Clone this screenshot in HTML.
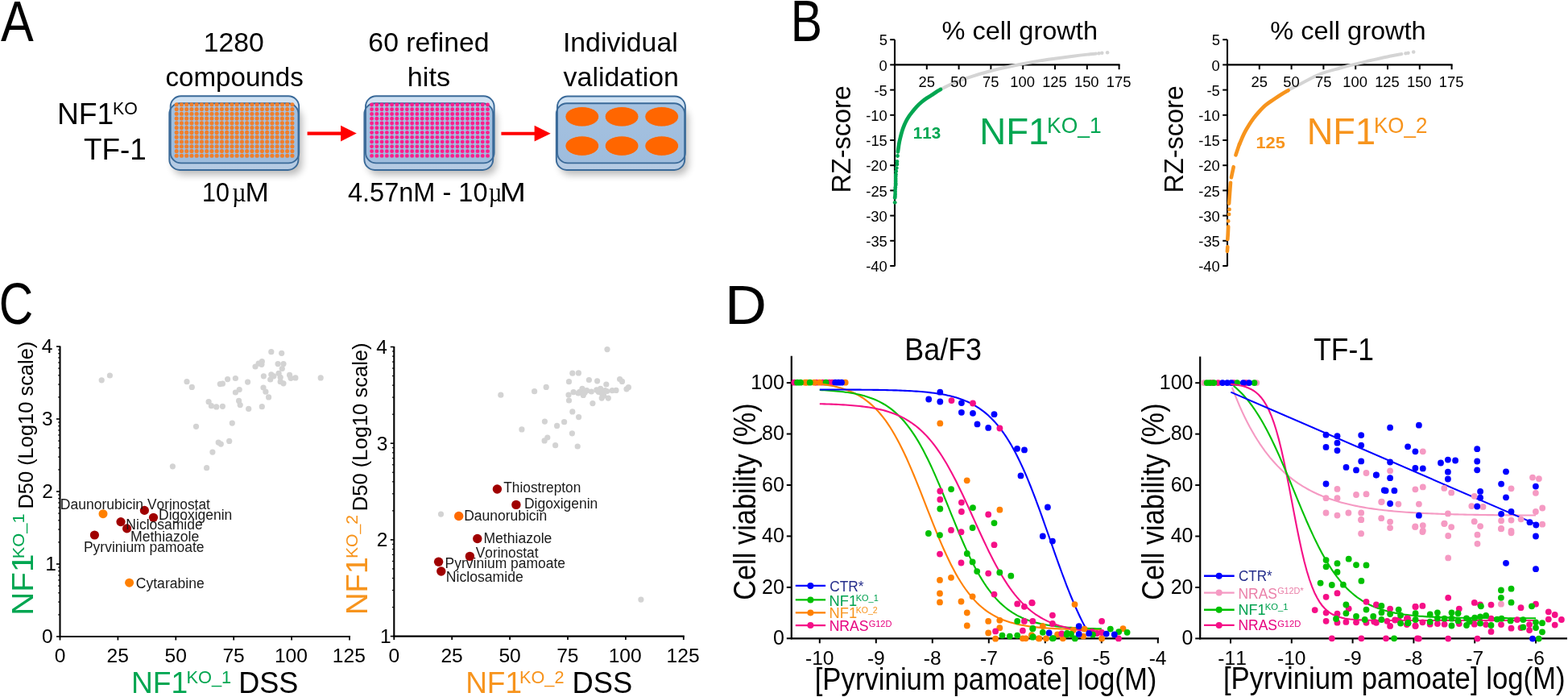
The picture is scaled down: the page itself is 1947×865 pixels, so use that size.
<!DOCTYPE html>
<html><head><meta charset="utf-8"><title>Figure</title>
<style>html,body{margin:0;padding:0;background:#fff;} svg{display:block;} text{font-kerning:none;}</style>
</head><body>
<svg width="1947" height="865" viewBox="0 0 1947 865">
<defs>
<filter id="shd" x="-20%" y="-30%" width="140%" height="160%"><feGaussianBlur stdDeviation="5"/></filter>
<linearGradient id="plateGrad" x1="0" y1="0" x2="0" y2="1">
 <stop offset="0" stop-color="#6a95c6" stop-opacity="0.42"/>
 <stop offset="1" stop-color="#6a95c6" stop-opacity="0.50"/>
</linearGradient>
</defs>
<rect width="1947" height="865" fill="#fff"/>
<text x="0.98" y="50.60" font-family='"Liberation Sans", sans-serif' font-size="71.00" fill="#000" textLength="40.74" lengthAdjust="spacingAndGlyphs">A</text>
<text x="252.65" y="63.90" font-family='"Liberation Sans", sans-serif' font-size="33.60" fill="#000" textLength="75.06" lengthAdjust="spacingAndGlyphs">1280</text>
<text x="205.39" y="106.70" font-family='"Liberation Sans", sans-serif' font-size="33.60" fill="#000" textLength="171.41" lengthAdjust="spacingAndGlyphs">compounds</text>
<text x="457.39" y="63.90" font-family='"Liberation Sans", sans-serif' font-size="33.60" fill="#000" textLength="150.09" lengthAdjust="spacingAndGlyphs">60 refined</text>
<text x="505.82" y="106.70" font-family='"Liberation Sans", sans-serif' font-size="33.60" fill="#000" textLength="53.31" lengthAdjust="spacingAndGlyphs">hits</text>
<text x="698.88" y="63.90" font-family='"Liberation Sans", sans-serif' font-size="33.60" fill="#000" textLength="142.88" lengthAdjust="spacingAndGlyphs">Individual</text>
<text x="699.58" y="106.70" font-family='"Liberation Sans", sans-serif' font-size="33.60" fill="#000" textLength="143.32" lengthAdjust="spacingAndGlyphs">validation</text>
<text x="70.94" y="153.80" font-family='"Liberation Sans", sans-serif' font-size="37.40" fill="#000" textLength="70.42" lengthAdjust="spacingAndGlyphs">NF1</text>
<text x="139.95" y="142.00" font-family='"Liberation Sans", sans-serif' font-size="22.10" fill="#000" textLength="30.77" lengthAdjust="spacingAndGlyphs">KO</text>
<text x="104.07" y="197.50" font-family='"Liberation Sans", sans-serif' font-size="37.60" fill="#000" textLength="77.80" lengthAdjust="spacingAndGlyphs">TF-1</text>
<text x="250.97" y="249.90" font-family='"Liberation Sans", sans-serif' font-size="33.60" fill="#000" textLength="33.93" lengthAdjust="spacingAndGlyphs">10</text>
<text x="288.33" y="249.90" font-family='"Liberation Serif", serif' font-size="33.60" fill="#000" textLength="17.36" lengthAdjust="spacingAndGlyphs">µ</text>
<text x="304.41" y="249.90" font-family='"Liberation Sans", sans-serif' font-size="33.60" fill="#000" textLength="29.39" lengthAdjust="spacingAndGlyphs">M</text>
<text x="431.95" y="250.40" font-family='"Liberation Sans", sans-serif' font-size="33.60" fill="#000" textLength="173.62" lengthAdjust="spacingAndGlyphs">4.57nM - 10</text>
<text x="606.67" y="250.40" font-family='"Liberation Serif", serif' font-size="33.60" fill="#000" textLength="16.57" lengthAdjust="spacingAndGlyphs">µ</text>
<text x="620.51" y="250.40" font-family='"Liberation Sans", sans-serif' font-size="33.60" fill="#000" textLength="32.38" lengthAdjust="spacingAndGlyphs">M</text>
<rect x="214.8" y="134.3" width="160.2" height="82.7" rx="13" fill="#000" opacity="0.27" filter="url(#shd)"/>
<rect x="210.3" y="128.3" width="160.2" height="82.7" rx="13" fill="#fff"/>
<rect x="211.7" y="119.3" width="159.5" height="83.1" rx="13" fill="#d0e2f3"/>
<rect x="210.3" y="128.3" width="160.2" height="82.7" rx="13" fill="url(#plateGrad)"/>
<rect x="211.7" y="119.3" width="159.5" height="83.1" rx="13" fill="none" stroke="#3a6a99" stroke-width="1.9"/>
<rect x="210.3" y="128.3" width="160.2" height="82.7" rx="13" fill="none" stroke="#3a6a99" stroke-width="1.9"/>
<g fill="#f07f2c"><circle cx="219.20" cy="129.70" r="2.55"/><circle cx="225.45" cy="129.70" r="2.55"/><circle cx="231.70" cy="129.70" r="2.55"/><circle cx="237.94" cy="129.70" r="2.55"/><circle cx="244.19" cy="129.70" r="2.55"/><circle cx="250.44" cy="129.70" r="2.55"/><circle cx="256.69" cy="129.70" r="2.55"/><circle cx="262.93" cy="129.70" r="2.55"/><circle cx="269.18" cy="129.70" r="2.55"/><circle cx="275.43" cy="129.70" r="2.55"/><circle cx="281.68" cy="129.70" r="2.55"/><circle cx="287.93" cy="129.70" r="2.55"/><circle cx="294.17" cy="129.70" r="2.55"/><circle cx="300.42" cy="129.70" r="2.55"/><circle cx="306.67" cy="129.70" r="2.55"/><circle cx="312.92" cy="129.70" r="2.55"/><circle cx="319.17" cy="129.70" r="2.55"/><circle cx="325.41" cy="129.70" r="2.55"/><circle cx="331.66" cy="129.70" r="2.55"/><circle cx="337.91" cy="129.70" r="2.55"/><circle cx="344.16" cy="129.70" r="2.55"/><circle cx="350.40" cy="129.70" r="2.55"/><circle cx="356.65" cy="129.70" r="2.55"/><circle cx="362.90" cy="129.70" r="2.55"/><circle cx="219.20" cy="135.48" r="2.55"/><circle cx="225.45" cy="135.48" r="2.55"/><circle cx="231.70" cy="135.48" r="2.55"/><circle cx="237.94" cy="135.48" r="2.55"/><circle cx="244.19" cy="135.48" r="2.55"/><circle cx="250.44" cy="135.48" r="2.55"/><circle cx="256.69" cy="135.48" r="2.55"/><circle cx="262.93" cy="135.48" r="2.55"/><circle cx="269.18" cy="135.48" r="2.55"/><circle cx="275.43" cy="135.48" r="2.55"/><circle cx="281.68" cy="135.48" r="2.55"/><circle cx="287.93" cy="135.48" r="2.55"/><circle cx="294.17" cy="135.48" r="2.55"/><circle cx="300.42" cy="135.48" r="2.55"/><circle cx="306.67" cy="135.48" r="2.55"/><circle cx="312.92" cy="135.48" r="2.55"/><circle cx="319.17" cy="135.48" r="2.55"/><circle cx="325.41" cy="135.48" r="2.55"/><circle cx="331.66" cy="135.48" r="2.55"/><circle cx="337.91" cy="135.48" r="2.55"/><circle cx="344.16" cy="135.48" r="2.55"/><circle cx="350.40" cy="135.48" r="2.55"/><circle cx="356.65" cy="135.48" r="2.55"/><circle cx="362.90" cy="135.48" r="2.55"/><circle cx="219.20" cy="141.26" r="2.55"/><circle cx="225.45" cy="141.26" r="2.55"/><circle cx="231.70" cy="141.26" r="2.55"/><circle cx="237.94" cy="141.26" r="2.55"/><circle cx="244.19" cy="141.26" r="2.55"/><circle cx="250.44" cy="141.26" r="2.55"/><circle cx="256.69" cy="141.26" r="2.55"/><circle cx="262.93" cy="141.26" r="2.55"/><circle cx="269.18" cy="141.26" r="2.55"/><circle cx="275.43" cy="141.26" r="2.55"/><circle cx="281.68" cy="141.26" r="2.55"/><circle cx="287.93" cy="141.26" r="2.55"/><circle cx="294.17" cy="141.26" r="2.55"/><circle cx="300.42" cy="141.26" r="2.55"/><circle cx="306.67" cy="141.26" r="2.55"/><circle cx="312.92" cy="141.26" r="2.55"/><circle cx="319.17" cy="141.26" r="2.55"/><circle cx="325.41" cy="141.26" r="2.55"/><circle cx="331.66" cy="141.26" r="2.55"/><circle cx="337.91" cy="141.26" r="2.55"/><circle cx="344.16" cy="141.26" r="2.55"/><circle cx="350.40" cy="141.26" r="2.55"/><circle cx="356.65" cy="141.26" r="2.55"/><circle cx="362.90" cy="141.26" r="2.55"/><circle cx="219.20" cy="147.05" r="2.55"/><circle cx="225.45" cy="147.05" r="2.55"/><circle cx="231.70" cy="147.05" r="2.55"/><circle cx="237.94" cy="147.05" r="2.55"/><circle cx="244.19" cy="147.05" r="2.55"/><circle cx="250.44" cy="147.05" r="2.55"/><circle cx="256.69" cy="147.05" r="2.55"/><circle cx="262.93" cy="147.05" r="2.55"/><circle cx="269.18" cy="147.05" r="2.55"/><circle cx="275.43" cy="147.05" r="2.55"/><circle cx="281.68" cy="147.05" r="2.55"/><circle cx="287.93" cy="147.05" r="2.55"/><circle cx="294.17" cy="147.05" r="2.55"/><circle cx="300.42" cy="147.05" r="2.55"/><circle cx="306.67" cy="147.05" r="2.55"/><circle cx="312.92" cy="147.05" r="2.55"/><circle cx="319.17" cy="147.05" r="2.55"/><circle cx="325.41" cy="147.05" r="2.55"/><circle cx="331.66" cy="147.05" r="2.55"/><circle cx="337.91" cy="147.05" r="2.55"/><circle cx="344.16" cy="147.05" r="2.55"/><circle cx="350.40" cy="147.05" r="2.55"/><circle cx="356.65" cy="147.05" r="2.55"/><circle cx="362.90" cy="147.05" r="2.55"/><circle cx="219.20" cy="152.83" r="2.55"/><circle cx="225.45" cy="152.83" r="2.55"/><circle cx="231.70" cy="152.83" r="2.55"/><circle cx="237.94" cy="152.83" r="2.55"/><circle cx="244.19" cy="152.83" r="2.55"/><circle cx="250.44" cy="152.83" r="2.55"/><circle cx="256.69" cy="152.83" r="2.55"/><circle cx="262.93" cy="152.83" r="2.55"/><circle cx="269.18" cy="152.83" r="2.55"/><circle cx="275.43" cy="152.83" r="2.55"/><circle cx="281.68" cy="152.83" r="2.55"/><circle cx="287.93" cy="152.83" r="2.55"/><circle cx="294.17" cy="152.83" r="2.55"/><circle cx="300.42" cy="152.83" r="2.55"/><circle cx="306.67" cy="152.83" r="2.55"/><circle cx="312.92" cy="152.83" r="2.55"/><circle cx="319.17" cy="152.83" r="2.55"/><circle cx="325.41" cy="152.83" r="2.55"/><circle cx="331.66" cy="152.83" r="2.55"/><circle cx="337.91" cy="152.83" r="2.55"/><circle cx="344.16" cy="152.83" r="2.55"/><circle cx="350.40" cy="152.83" r="2.55"/><circle cx="356.65" cy="152.83" r="2.55"/><circle cx="362.90" cy="152.83" r="2.55"/><circle cx="219.20" cy="158.61" r="2.55"/><circle cx="225.45" cy="158.61" r="2.55"/><circle cx="231.70" cy="158.61" r="2.55"/><circle cx="237.94" cy="158.61" r="2.55"/><circle cx="244.19" cy="158.61" r="2.55"/><circle cx="250.44" cy="158.61" r="2.55"/><circle cx="256.69" cy="158.61" r="2.55"/><circle cx="262.93" cy="158.61" r="2.55"/><circle cx="269.18" cy="158.61" r="2.55"/><circle cx="275.43" cy="158.61" r="2.55"/><circle cx="281.68" cy="158.61" r="2.55"/><circle cx="287.93" cy="158.61" r="2.55"/><circle cx="294.17" cy="158.61" r="2.55"/><circle cx="300.42" cy="158.61" r="2.55"/><circle cx="306.67" cy="158.61" r="2.55"/><circle cx="312.92" cy="158.61" r="2.55"/><circle cx="319.17" cy="158.61" r="2.55"/><circle cx="325.41" cy="158.61" r="2.55"/><circle cx="331.66" cy="158.61" r="2.55"/><circle cx="337.91" cy="158.61" r="2.55"/><circle cx="344.16" cy="158.61" r="2.55"/><circle cx="350.40" cy="158.61" r="2.55"/><circle cx="356.65" cy="158.61" r="2.55"/><circle cx="362.90" cy="158.61" r="2.55"/><circle cx="219.20" cy="164.39" r="2.55"/><circle cx="225.45" cy="164.39" r="2.55"/><circle cx="231.70" cy="164.39" r="2.55"/><circle cx="237.94" cy="164.39" r="2.55"/><circle cx="244.19" cy="164.39" r="2.55"/><circle cx="250.44" cy="164.39" r="2.55"/><circle cx="256.69" cy="164.39" r="2.55"/><circle cx="262.93" cy="164.39" r="2.55"/><circle cx="269.18" cy="164.39" r="2.55"/><circle cx="275.43" cy="164.39" r="2.55"/><circle cx="281.68" cy="164.39" r="2.55"/><circle cx="287.93" cy="164.39" r="2.55"/><circle cx="294.17" cy="164.39" r="2.55"/><circle cx="300.42" cy="164.39" r="2.55"/><circle cx="306.67" cy="164.39" r="2.55"/><circle cx="312.92" cy="164.39" r="2.55"/><circle cx="319.17" cy="164.39" r="2.55"/><circle cx="325.41" cy="164.39" r="2.55"/><circle cx="331.66" cy="164.39" r="2.55"/><circle cx="337.91" cy="164.39" r="2.55"/><circle cx="344.16" cy="164.39" r="2.55"/><circle cx="350.40" cy="164.39" r="2.55"/><circle cx="356.65" cy="164.39" r="2.55"/><circle cx="362.90" cy="164.39" r="2.55"/><circle cx="219.20" cy="170.17" r="2.55"/><circle cx="225.45" cy="170.17" r="2.55"/><circle cx="231.70" cy="170.17" r="2.55"/><circle cx="237.94" cy="170.17" r="2.55"/><circle cx="244.19" cy="170.17" r="2.55"/><circle cx="250.44" cy="170.17" r="2.55"/><circle cx="256.69" cy="170.17" r="2.55"/><circle cx="262.93" cy="170.17" r="2.55"/><circle cx="269.18" cy="170.17" r="2.55"/><circle cx="275.43" cy="170.17" r="2.55"/><circle cx="281.68" cy="170.17" r="2.55"/><circle cx="287.93" cy="170.17" r="2.55"/><circle cx="294.17" cy="170.17" r="2.55"/><circle cx="300.42" cy="170.17" r="2.55"/><circle cx="306.67" cy="170.17" r="2.55"/><circle cx="312.92" cy="170.17" r="2.55"/><circle cx="319.17" cy="170.17" r="2.55"/><circle cx="325.41" cy="170.17" r="2.55"/><circle cx="331.66" cy="170.17" r="2.55"/><circle cx="337.91" cy="170.17" r="2.55"/><circle cx="344.16" cy="170.17" r="2.55"/><circle cx="350.40" cy="170.17" r="2.55"/><circle cx="356.65" cy="170.17" r="2.55"/><circle cx="362.90" cy="170.17" r="2.55"/><circle cx="219.20" cy="175.95" r="2.55"/><circle cx="225.45" cy="175.95" r="2.55"/><circle cx="231.70" cy="175.95" r="2.55"/><circle cx="237.94" cy="175.95" r="2.55"/><circle cx="244.19" cy="175.95" r="2.55"/><circle cx="250.44" cy="175.95" r="2.55"/><circle cx="256.69" cy="175.95" r="2.55"/><circle cx="262.93" cy="175.95" r="2.55"/><circle cx="269.18" cy="175.95" r="2.55"/><circle cx="275.43" cy="175.95" r="2.55"/><circle cx="281.68" cy="175.95" r="2.55"/><circle cx="287.93" cy="175.95" r="2.55"/><circle cx="294.17" cy="175.95" r="2.55"/><circle cx="300.42" cy="175.95" r="2.55"/><circle cx="306.67" cy="175.95" r="2.55"/><circle cx="312.92" cy="175.95" r="2.55"/><circle cx="319.17" cy="175.95" r="2.55"/><circle cx="325.41" cy="175.95" r="2.55"/><circle cx="331.66" cy="175.95" r="2.55"/><circle cx="337.91" cy="175.95" r="2.55"/><circle cx="344.16" cy="175.95" r="2.55"/><circle cx="350.40" cy="175.95" r="2.55"/><circle cx="356.65" cy="175.95" r="2.55"/><circle cx="362.90" cy="175.95" r="2.55"/><circle cx="219.20" cy="181.74" r="2.55"/><circle cx="225.45" cy="181.74" r="2.55"/><circle cx="231.70" cy="181.74" r="2.55"/><circle cx="237.94" cy="181.74" r="2.55"/><circle cx="244.19" cy="181.74" r="2.55"/><circle cx="250.44" cy="181.74" r="2.55"/><circle cx="256.69" cy="181.74" r="2.55"/><circle cx="262.93" cy="181.74" r="2.55"/><circle cx="269.18" cy="181.74" r="2.55"/><circle cx="275.43" cy="181.74" r="2.55"/><circle cx="281.68" cy="181.74" r="2.55"/><circle cx="287.93" cy="181.74" r="2.55"/><circle cx="294.17" cy="181.74" r="2.55"/><circle cx="300.42" cy="181.74" r="2.55"/><circle cx="306.67" cy="181.74" r="2.55"/><circle cx="312.92" cy="181.74" r="2.55"/><circle cx="319.17" cy="181.74" r="2.55"/><circle cx="325.41" cy="181.74" r="2.55"/><circle cx="331.66" cy="181.74" r="2.55"/><circle cx="337.91" cy="181.74" r="2.55"/><circle cx="344.16" cy="181.74" r="2.55"/><circle cx="350.40" cy="181.74" r="2.55"/><circle cx="356.65" cy="181.74" r="2.55"/><circle cx="362.90" cy="181.74" r="2.55"/><circle cx="219.20" cy="187.52" r="2.55"/><circle cx="225.45" cy="187.52" r="2.55"/><circle cx="231.70" cy="187.52" r="2.55"/><circle cx="237.94" cy="187.52" r="2.55"/><circle cx="244.19" cy="187.52" r="2.55"/><circle cx="250.44" cy="187.52" r="2.55"/><circle cx="256.69" cy="187.52" r="2.55"/><circle cx="262.93" cy="187.52" r="2.55"/><circle cx="269.18" cy="187.52" r="2.55"/><circle cx="275.43" cy="187.52" r="2.55"/><circle cx="281.68" cy="187.52" r="2.55"/><circle cx="287.93" cy="187.52" r="2.55"/><circle cx="294.17" cy="187.52" r="2.55"/><circle cx="300.42" cy="187.52" r="2.55"/><circle cx="306.67" cy="187.52" r="2.55"/><circle cx="312.92" cy="187.52" r="2.55"/><circle cx="319.17" cy="187.52" r="2.55"/><circle cx="325.41" cy="187.52" r="2.55"/><circle cx="331.66" cy="187.52" r="2.55"/><circle cx="337.91" cy="187.52" r="2.55"/><circle cx="344.16" cy="187.52" r="2.55"/><circle cx="350.40" cy="187.52" r="2.55"/><circle cx="356.65" cy="187.52" r="2.55"/><circle cx="362.90" cy="187.52" r="2.55"/><circle cx="219.20" cy="193.30" r="2.55"/><circle cx="225.45" cy="193.30" r="2.55"/><circle cx="231.70" cy="193.30" r="2.55"/><circle cx="237.94" cy="193.30" r="2.55"/><circle cx="244.19" cy="193.30" r="2.55"/><circle cx="250.44" cy="193.30" r="2.55"/><circle cx="256.69" cy="193.30" r="2.55"/><circle cx="262.93" cy="193.30" r="2.55"/><circle cx="269.18" cy="193.30" r="2.55"/><circle cx="275.43" cy="193.30" r="2.55"/><circle cx="281.68" cy="193.30" r="2.55"/><circle cx="287.93" cy="193.30" r="2.55"/><circle cx="294.17" cy="193.30" r="2.55"/><circle cx="300.42" cy="193.30" r="2.55"/><circle cx="306.67" cy="193.30" r="2.55"/><circle cx="312.92" cy="193.30" r="2.55"/><circle cx="319.17" cy="193.30" r="2.55"/><circle cx="325.41" cy="193.30" r="2.55"/><circle cx="331.66" cy="193.30" r="2.55"/><circle cx="337.91" cy="193.30" r="2.55"/><circle cx="344.16" cy="193.30" r="2.55"/><circle cx="350.40" cy="193.30" r="2.55"/><circle cx="356.65" cy="193.30" r="2.55"/><circle cx="362.90" cy="193.30" r="2.55"/></g>
<rect x="456.9" y="134.3" width="159.8" height="82.7" rx="13" fill="#000" opacity="0.27" filter="url(#shd)"/>
<rect x="452.4" y="128.3" width="159.8" height="82.7" rx="13" fill="#fff"/>
<rect x="454.0" y="119.3" width="159.6" height="83.1" rx="13" fill="#d0e2f3"/>
<rect x="452.4" y="128.3" width="159.8" height="82.7" rx="13" fill="url(#plateGrad)"/>
<rect x="454.0" y="119.3" width="159.6" height="83.1" rx="13" fill="none" stroke="#3a6a99" stroke-width="1.9"/>
<rect x="452.4" y="128.3" width="159.8" height="82.7" rx="13" fill="none" stroke="#3a6a99" stroke-width="1.9"/>
<g fill="#ff1e8c"><circle cx="461.60" cy="130.00" r="2.45"/><circle cx="467.86" cy="130.00" r="2.45"/><circle cx="474.11" cy="130.00" r="2.45"/><circle cx="480.37" cy="130.00" r="2.45"/><circle cx="486.63" cy="130.00" r="2.45"/><circle cx="492.88" cy="130.00" r="2.45"/><circle cx="499.14" cy="130.00" r="2.45"/><circle cx="505.40" cy="130.00" r="2.45"/><circle cx="511.65" cy="130.00" r="2.45"/><circle cx="517.91" cy="130.00" r="2.45"/><circle cx="524.17" cy="130.00" r="2.45"/><circle cx="530.42" cy="130.00" r="2.45"/><circle cx="536.68" cy="130.00" r="2.45"/><circle cx="542.93" cy="130.00" r="2.45"/><circle cx="549.19" cy="130.00" r="2.45"/><circle cx="555.45" cy="130.00" r="2.45"/><circle cx="561.70" cy="130.00" r="2.45"/><circle cx="567.96" cy="130.00" r="2.45"/><circle cx="574.22" cy="130.00" r="2.45"/><circle cx="580.47" cy="130.00" r="2.45"/><circle cx="586.73" cy="130.00" r="2.45"/><circle cx="592.99" cy="130.00" r="2.45"/><circle cx="599.24" cy="130.00" r="2.45"/><circle cx="605.50" cy="130.00" r="2.45"/><circle cx="461.60" cy="135.76" r="2.45"/><circle cx="467.86" cy="135.76" r="2.45"/><circle cx="474.11" cy="135.76" r="2.45"/><circle cx="480.37" cy="135.76" r="2.45"/><circle cx="486.63" cy="135.76" r="2.45"/><circle cx="492.88" cy="135.76" r="2.45"/><circle cx="499.14" cy="135.76" r="2.45"/><circle cx="505.40" cy="135.76" r="2.45"/><circle cx="511.65" cy="135.76" r="2.45"/><circle cx="517.91" cy="135.76" r="2.45"/><circle cx="524.17" cy="135.76" r="2.45"/><circle cx="530.42" cy="135.76" r="2.45"/><circle cx="536.68" cy="135.76" r="2.45"/><circle cx="542.93" cy="135.76" r="2.45"/><circle cx="549.19" cy="135.76" r="2.45"/><circle cx="555.45" cy="135.76" r="2.45"/><circle cx="561.70" cy="135.76" r="2.45"/><circle cx="567.96" cy="135.76" r="2.45"/><circle cx="574.22" cy="135.76" r="2.45"/><circle cx="580.47" cy="135.76" r="2.45"/><circle cx="586.73" cy="135.76" r="2.45"/><circle cx="592.99" cy="135.76" r="2.45"/><circle cx="599.24" cy="135.76" r="2.45"/><circle cx="605.50" cy="135.76" r="2.45"/><circle cx="461.60" cy="141.53" r="2.45"/><circle cx="467.86" cy="141.53" r="2.45"/><circle cx="474.11" cy="141.53" r="2.45"/><circle cx="480.37" cy="141.53" r="2.45"/><circle cx="486.63" cy="141.53" r="2.45"/><circle cx="492.88" cy="141.53" r="2.45"/><circle cx="499.14" cy="141.53" r="2.45"/><circle cx="505.40" cy="141.53" r="2.45"/><circle cx="511.65" cy="141.53" r="2.45"/><circle cx="517.91" cy="141.53" r="2.45"/><circle cx="524.17" cy="141.53" r="2.45"/><circle cx="530.42" cy="141.53" r="2.45"/><circle cx="536.68" cy="141.53" r="2.45"/><circle cx="542.93" cy="141.53" r="2.45"/><circle cx="549.19" cy="141.53" r="2.45"/><circle cx="555.45" cy="141.53" r="2.45"/><circle cx="561.70" cy="141.53" r="2.45"/><circle cx="567.96" cy="141.53" r="2.45"/><circle cx="574.22" cy="141.53" r="2.45"/><circle cx="580.47" cy="141.53" r="2.45"/><circle cx="586.73" cy="141.53" r="2.45"/><circle cx="592.99" cy="141.53" r="2.45"/><circle cx="599.24" cy="141.53" r="2.45"/><circle cx="605.50" cy="141.53" r="2.45"/><circle cx="461.60" cy="147.29" r="2.45"/><circle cx="467.86" cy="147.29" r="2.45"/><circle cx="474.11" cy="147.29" r="2.45"/><circle cx="480.37" cy="147.29" r="2.45"/><circle cx="486.63" cy="147.29" r="2.45"/><circle cx="492.88" cy="147.29" r="2.45"/><circle cx="499.14" cy="147.29" r="2.45"/><circle cx="505.40" cy="147.29" r="2.45"/><circle cx="511.65" cy="147.29" r="2.45"/><circle cx="517.91" cy="147.29" r="2.45"/><circle cx="524.17" cy="147.29" r="2.45"/><circle cx="530.42" cy="147.29" r="2.45"/><circle cx="536.68" cy="147.29" r="2.45"/><circle cx="542.93" cy="147.29" r="2.45"/><circle cx="549.19" cy="147.29" r="2.45"/><circle cx="555.45" cy="147.29" r="2.45"/><circle cx="561.70" cy="147.29" r="2.45"/><circle cx="567.96" cy="147.29" r="2.45"/><circle cx="574.22" cy="147.29" r="2.45"/><circle cx="580.47" cy="147.29" r="2.45"/><circle cx="586.73" cy="147.29" r="2.45"/><circle cx="592.99" cy="147.29" r="2.45"/><circle cx="599.24" cy="147.29" r="2.45"/><circle cx="605.50" cy="147.29" r="2.45"/><circle cx="461.60" cy="153.05" r="2.45"/><circle cx="467.86" cy="153.05" r="2.45"/><circle cx="474.11" cy="153.05" r="2.45"/><circle cx="480.37" cy="153.05" r="2.45"/><circle cx="486.63" cy="153.05" r="2.45"/><circle cx="492.88" cy="153.05" r="2.45"/><circle cx="499.14" cy="153.05" r="2.45"/><circle cx="505.40" cy="153.05" r="2.45"/><circle cx="511.65" cy="153.05" r="2.45"/><circle cx="517.91" cy="153.05" r="2.45"/><circle cx="524.17" cy="153.05" r="2.45"/><circle cx="530.42" cy="153.05" r="2.45"/><circle cx="536.68" cy="153.05" r="2.45"/><circle cx="542.93" cy="153.05" r="2.45"/><circle cx="549.19" cy="153.05" r="2.45"/><circle cx="555.45" cy="153.05" r="2.45"/><circle cx="561.70" cy="153.05" r="2.45"/><circle cx="567.96" cy="153.05" r="2.45"/><circle cx="574.22" cy="153.05" r="2.45"/><circle cx="580.47" cy="153.05" r="2.45"/><circle cx="586.73" cy="153.05" r="2.45"/><circle cx="592.99" cy="153.05" r="2.45"/><circle cx="599.24" cy="153.05" r="2.45"/><circle cx="605.50" cy="153.05" r="2.45"/><circle cx="461.60" cy="158.82" r="2.45"/><circle cx="467.86" cy="158.82" r="2.45"/><circle cx="474.11" cy="158.82" r="2.45"/><circle cx="480.37" cy="158.82" r="2.45"/><circle cx="486.63" cy="158.82" r="2.45"/><circle cx="492.88" cy="158.82" r="2.45"/><circle cx="499.14" cy="158.82" r="2.45"/><circle cx="505.40" cy="158.82" r="2.45"/><circle cx="511.65" cy="158.82" r="2.45"/><circle cx="517.91" cy="158.82" r="2.45"/><circle cx="524.17" cy="158.82" r="2.45"/><circle cx="530.42" cy="158.82" r="2.45"/><circle cx="536.68" cy="158.82" r="2.45"/><circle cx="542.93" cy="158.82" r="2.45"/><circle cx="549.19" cy="158.82" r="2.45"/><circle cx="555.45" cy="158.82" r="2.45"/><circle cx="561.70" cy="158.82" r="2.45"/><circle cx="567.96" cy="158.82" r="2.45"/><circle cx="574.22" cy="158.82" r="2.45"/><circle cx="580.47" cy="158.82" r="2.45"/><circle cx="586.73" cy="158.82" r="2.45"/><circle cx="592.99" cy="158.82" r="2.45"/><circle cx="599.24" cy="158.82" r="2.45"/><circle cx="605.50" cy="158.82" r="2.45"/><circle cx="461.60" cy="164.58" r="2.45"/><circle cx="467.86" cy="164.58" r="2.45"/><circle cx="474.11" cy="164.58" r="2.45"/><circle cx="480.37" cy="164.58" r="2.45"/><circle cx="486.63" cy="164.58" r="2.45"/><circle cx="492.88" cy="164.58" r="2.45"/><circle cx="499.14" cy="164.58" r="2.45"/><circle cx="505.40" cy="164.58" r="2.45"/><circle cx="511.65" cy="164.58" r="2.45"/><circle cx="517.91" cy="164.58" r="2.45"/><circle cx="524.17" cy="164.58" r="2.45"/><circle cx="530.42" cy="164.58" r="2.45"/><circle cx="536.68" cy="164.58" r="2.45"/><circle cx="542.93" cy="164.58" r="2.45"/><circle cx="549.19" cy="164.58" r="2.45"/><circle cx="555.45" cy="164.58" r="2.45"/><circle cx="561.70" cy="164.58" r="2.45"/><circle cx="567.96" cy="164.58" r="2.45"/><circle cx="574.22" cy="164.58" r="2.45"/><circle cx="580.47" cy="164.58" r="2.45"/><circle cx="586.73" cy="164.58" r="2.45"/><circle cx="592.99" cy="164.58" r="2.45"/><circle cx="599.24" cy="164.58" r="2.45"/><circle cx="605.50" cy="164.58" r="2.45"/><circle cx="461.60" cy="170.35" r="2.45"/><circle cx="467.86" cy="170.35" r="2.45"/><circle cx="474.11" cy="170.35" r="2.45"/><circle cx="480.37" cy="170.35" r="2.45"/><circle cx="486.63" cy="170.35" r="2.45"/><circle cx="492.88" cy="170.35" r="2.45"/><circle cx="499.14" cy="170.35" r="2.45"/><circle cx="505.40" cy="170.35" r="2.45"/><circle cx="511.65" cy="170.35" r="2.45"/><circle cx="517.91" cy="170.35" r="2.45"/><circle cx="524.17" cy="170.35" r="2.45"/><circle cx="530.42" cy="170.35" r="2.45"/><circle cx="536.68" cy="170.35" r="2.45"/><circle cx="542.93" cy="170.35" r="2.45"/><circle cx="549.19" cy="170.35" r="2.45"/><circle cx="555.45" cy="170.35" r="2.45"/><circle cx="561.70" cy="170.35" r="2.45"/><circle cx="567.96" cy="170.35" r="2.45"/><circle cx="574.22" cy="170.35" r="2.45"/><circle cx="580.47" cy="170.35" r="2.45"/><circle cx="586.73" cy="170.35" r="2.45"/><circle cx="592.99" cy="170.35" r="2.45"/><circle cx="599.24" cy="170.35" r="2.45"/><circle cx="605.50" cy="170.35" r="2.45"/><circle cx="461.60" cy="176.11" r="2.45"/><circle cx="467.86" cy="176.11" r="2.45"/><circle cx="474.11" cy="176.11" r="2.45"/><circle cx="480.37" cy="176.11" r="2.45"/><circle cx="486.63" cy="176.11" r="2.45"/><circle cx="492.88" cy="176.11" r="2.45"/><circle cx="499.14" cy="176.11" r="2.45"/><circle cx="505.40" cy="176.11" r="2.45"/><circle cx="511.65" cy="176.11" r="2.45"/><circle cx="517.91" cy="176.11" r="2.45"/><circle cx="524.17" cy="176.11" r="2.45"/><circle cx="530.42" cy="176.11" r="2.45"/><circle cx="536.68" cy="176.11" r="2.45"/><circle cx="542.93" cy="176.11" r="2.45"/><circle cx="549.19" cy="176.11" r="2.45"/><circle cx="555.45" cy="176.11" r="2.45"/><circle cx="561.70" cy="176.11" r="2.45"/><circle cx="567.96" cy="176.11" r="2.45"/><circle cx="574.22" cy="176.11" r="2.45"/><circle cx="580.47" cy="176.11" r="2.45"/><circle cx="586.73" cy="176.11" r="2.45"/><circle cx="592.99" cy="176.11" r="2.45"/><circle cx="599.24" cy="176.11" r="2.45"/><circle cx="605.50" cy="176.11" r="2.45"/><circle cx="461.60" cy="181.87" r="2.45"/><circle cx="467.86" cy="181.87" r="2.45"/><circle cx="474.11" cy="181.87" r="2.45"/><circle cx="480.37" cy="181.87" r="2.45"/><circle cx="486.63" cy="181.87" r="2.45"/><circle cx="492.88" cy="181.87" r="2.45"/><circle cx="499.14" cy="181.87" r="2.45"/><circle cx="505.40" cy="181.87" r="2.45"/><circle cx="511.65" cy="181.87" r="2.45"/><circle cx="517.91" cy="181.87" r="2.45"/><circle cx="524.17" cy="181.87" r="2.45"/><circle cx="530.42" cy="181.87" r="2.45"/><circle cx="536.68" cy="181.87" r="2.45"/><circle cx="542.93" cy="181.87" r="2.45"/><circle cx="549.19" cy="181.87" r="2.45"/><circle cx="555.45" cy="181.87" r="2.45"/><circle cx="561.70" cy="181.87" r="2.45"/><circle cx="567.96" cy="181.87" r="2.45"/><circle cx="574.22" cy="181.87" r="2.45"/><circle cx="580.47" cy="181.87" r="2.45"/><circle cx="586.73" cy="181.87" r="2.45"/><circle cx="592.99" cy="181.87" r="2.45"/><circle cx="599.24" cy="181.87" r="2.45"/><circle cx="605.50" cy="181.87" r="2.45"/><circle cx="461.60" cy="187.64" r="2.45"/><circle cx="467.86" cy="187.64" r="2.45"/><circle cx="474.11" cy="187.64" r="2.45"/><circle cx="480.37" cy="187.64" r="2.45"/><circle cx="486.63" cy="187.64" r="2.45"/><circle cx="492.88" cy="187.64" r="2.45"/><circle cx="499.14" cy="187.64" r="2.45"/><circle cx="505.40" cy="187.64" r="2.45"/><circle cx="511.65" cy="187.64" r="2.45"/><circle cx="517.91" cy="187.64" r="2.45"/><circle cx="524.17" cy="187.64" r="2.45"/><circle cx="530.42" cy="187.64" r="2.45"/><circle cx="536.68" cy="187.64" r="2.45"/><circle cx="542.93" cy="187.64" r="2.45"/><circle cx="549.19" cy="187.64" r="2.45"/><circle cx="555.45" cy="187.64" r="2.45"/><circle cx="561.70" cy="187.64" r="2.45"/><circle cx="567.96" cy="187.64" r="2.45"/><circle cx="574.22" cy="187.64" r="2.45"/><circle cx="580.47" cy="187.64" r="2.45"/><circle cx="586.73" cy="187.64" r="2.45"/><circle cx="592.99" cy="187.64" r="2.45"/><circle cx="599.24" cy="187.64" r="2.45"/><circle cx="605.50" cy="187.64" r="2.45"/><circle cx="461.60" cy="193.40" r="2.45"/><circle cx="467.86" cy="193.40" r="2.45"/><circle cx="474.11" cy="193.40" r="2.45"/><circle cx="480.37" cy="193.40" r="2.45"/><circle cx="486.63" cy="193.40" r="2.45"/><circle cx="492.88" cy="193.40" r="2.45"/><circle cx="499.14" cy="193.40" r="2.45"/><circle cx="505.40" cy="193.40" r="2.45"/><circle cx="511.65" cy="193.40" r="2.45"/><circle cx="517.91" cy="193.40" r="2.45"/><circle cx="524.17" cy="193.40" r="2.45"/><circle cx="530.42" cy="193.40" r="2.45"/><circle cx="536.68" cy="193.40" r="2.45"/><circle cx="542.93" cy="193.40" r="2.45"/><circle cx="549.19" cy="193.40" r="2.45"/><circle cx="555.45" cy="193.40" r="2.45"/><circle cx="561.70" cy="193.40" r="2.45"/><circle cx="567.96" cy="193.40" r="2.45"/><circle cx="574.22" cy="193.40" r="2.45"/><circle cx="580.47" cy="193.40" r="2.45"/><circle cx="586.73" cy="193.40" r="2.45"/><circle cx="592.99" cy="193.40" r="2.45"/><circle cx="599.24" cy="193.40" r="2.45"/><circle cx="605.50" cy="193.40" r="2.45"/></g>
<rect x="695.3" y="134.3" width="159.4" height="82.7" rx="13" fill="#000" opacity="0.27" filter="url(#shd)"/>
<rect x="690.8" y="128.3" width="159.4" height="82.7" rx="13" fill="#fff"/>
<rect x="692.0" y="119.5" width="158.9" height="82.9" rx="13" fill="#d0e2f3"/>
<rect x="690.8" y="128.3" width="159.4" height="82.7" rx="13" fill="url(#plateGrad)"/>
<ellipse cx="722.8" cy="144.8" rx="20.9" ry="12.3" fill="#ff6600" stroke="#9dc8ec" stroke-width="0.8"/><ellipse cx="772.1" cy="144.8" rx="20.9" ry="12.3" fill="#ff6600" stroke="#9dc8ec" stroke-width="0.8"/><ellipse cx="821.7" cy="144.8" rx="20.9" ry="12.3" fill="#ff6600" stroke="#9dc8ec" stroke-width="0.8"/><ellipse cx="722.8" cy="181.1" rx="20.9" ry="12.3" fill="#ff6600" stroke="#9dc8ec" stroke-width="0.8"/><ellipse cx="772.1" cy="181.1" rx="20.9" ry="12.3" fill="#ff6600" stroke="#9dc8ec" stroke-width="0.8"/><ellipse cx="821.7" cy="181.1" rx="20.9" ry="12.3" fill="#ff6600" stroke="#9dc8ec" stroke-width="0.8"/>
<rect x="692.0" y="119.5" width="158.9" height="82.9" rx="13" fill="none" stroke="#3a6a99" stroke-width="1.9"/>
<rect x="690.8" y="128.3" width="159.4" height="82.7" rx="13" fill="none" stroke="#3a6a99" stroke-width="1.9"/>
<line x1="381.6" y1="165.6" x2="424.1" y2="165.6" stroke="#ff0000" stroke-width="4.1"/><polygon points="423.1,155.7 442.8,165.6 423.1,175.5" fill="#ff0000"/>
<line x1="622.4" y1="165.7" x2="664.6" y2="165.7" stroke="#ff0000" stroke-width="4.1"/><polygon points="663.6,155.79999999999998 683.7,165.7 663.6,175.6" fill="#ff0000"/>
<text x="981.78" y="51.00" font-family='"Liberation Sans", sans-serif' font-size="71.80" fill="#000" textLength="39.23" lengthAdjust="spacingAndGlyphs">B</text>
<text x="1169.54" y="48.60" font-family='"Liberation Sans", sans-serif' font-size="31.60" fill="#000" textLength="193.47" lengthAdjust="spacingAndGlyphs">% cell growth</text>
<text x="1577.34" y="48.60" font-family='"Liberation Sans", sans-serif' font-size="31.60" fill="#000" textLength="193.37" lengthAdjust="spacingAndGlyphs">% cell growth</text>
<text transform="translate(1056.00,0) rotate(-90)" x="-239.56" y="0" font-family='"Liberation Sans", sans-serif' font-size="32.60" fill="#000" textLength="133.40" lengthAdjust="spacingAndGlyphs">RZ-score</text>
<text transform="translate(1469.40,0) rotate(-90)" x="-239.56" y="0" font-family='"Liberation Sans", sans-serif' font-size="32.60" fill="#000" textLength="133.40" lengthAdjust="spacingAndGlyphs">RZ-score</text>
<line x1="1111.00" y1="49.20" x2="1111.00" y2="330.50" stroke="#000" stroke-width="2.1"/>
<line x1="1110.50" y1="80.40" x2="1390.60" y2="80.40" stroke="#000" stroke-width="2.1"/>
<line x1="1105.20" y1="49.20" x2="1111.00" y2="49.20" stroke="#000" stroke-width="2"/>
<line x1="1105.20" y1="80.40" x2="1111.00" y2="80.40" stroke="#000" stroke-width="2"/>
<line x1="1105.20" y1="111.60" x2="1111.00" y2="111.60" stroke="#000" stroke-width="2"/>
<line x1="1105.20" y1="142.80" x2="1111.00" y2="142.80" stroke="#000" stroke-width="2"/>
<line x1="1105.20" y1="174.00" x2="1111.00" y2="174.00" stroke="#000" stroke-width="2"/>
<line x1="1105.20" y1="205.20" x2="1111.00" y2="205.20" stroke="#000" stroke-width="2"/>
<line x1="1105.20" y1="236.40" x2="1111.00" y2="236.40" stroke="#000" stroke-width="2"/>
<line x1="1105.20" y1="267.60" x2="1111.00" y2="267.60" stroke="#000" stroke-width="2"/>
<line x1="1105.20" y1="298.80" x2="1111.00" y2="298.80" stroke="#000" stroke-width="2"/>
<line x1="1105.20" y1="330.00" x2="1111.00" y2="330.00" stroke="#000" stroke-width="2"/>
<line x1="1150.80" y1="80.40" x2="1150.80" y2="86.20" stroke="#000" stroke-width="2"/>
<line x1="1190.60" y1="80.40" x2="1190.60" y2="86.20" stroke="#000" stroke-width="2"/>
<line x1="1230.40" y1="80.40" x2="1230.40" y2="86.20" stroke="#000" stroke-width="2"/>
<line x1="1270.20" y1="80.40" x2="1270.20" y2="86.20" stroke="#000" stroke-width="2"/>
<line x1="1310.00" y1="80.40" x2="1310.00" y2="86.20" stroke="#000" stroke-width="2"/>
<line x1="1349.80" y1="80.40" x2="1349.80" y2="86.20" stroke="#000" stroke-width="2"/>
<line x1="1389.60" y1="80.40" x2="1389.60" y2="86.20" stroke="#000" stroke-width="2"/>
<line x1="1524.00" y1="49.20" x2="1524.00" y2="330.50" stroke="#000" stroke-width="2.1"/>
<line x1="1523.50" y1="80.40" x2="1803.60" y2="80.40" stroke="#000" stroke-width="2.1"/>
<line x1="1518.20" y1="49.20" x2="1524.00" y2="49.20" stroke="#000" stroke-width="2"/>
<line x1="1518.20" y1="80.40" x2="1524.00" y2="80.40" stroke="#000" stroke-width="2"/>
<line x1="1518.20" y1="111.60" x2="1524.00" y2="111.60" stroke="#000" stroke-width="2"/>
<line x1="1518.20" y1="142.80" x2="1524.00" y2="142.80" stroke="#000" stroke-width="2"/>
<line x1="1518.20" y1="174.00" x2="1524.00" y2="174.00" stroke="#000" stroke-width="2"/>
<line x1="1518.20" y1="205.20" x2="1524.00" y2="205.20" stroke="#000" stroke-width="2"/>
<line x1="1518.20" y1="236.40" x2="1524.00" y2="236.40" stroke="#000" stroke-width="2"/>
<line x1="1518.20" y1="267.60" x2="1524.00" y2="267.60" stroke="#000" stroke-width="2"/>
<line x1="1518.20" y1="298.80" x2="1524.00" y2="298.80" stroke="#000" stroke-width="2"/>
<line x1="1518.20" y1="330.00" x2="1524.00" y2="330.00" stroke="#000" stroke-width="2"/>
<line x1="1563.80" y1="80.40" x2="1563.80" y2="86.20" stroke="#000" stroke-width="2"/>
<line x1="1603.60" y1="80.40" x2="1603.60" y2="86.20" stroke="#000" stroke-width="2"/>
<line x1="1643.40" y1="80.40" x2="1643.40" y2="86.20" stroke="#000" stroke-width="2"/>
<line x1="1683.20" y1="80.40" x2="1683.20" y2="86.20" stroke="#000" stroke-width="2"/>
<line x1="1723.00" y1="80.40" x2="1723.00" y2="86.20" stroke="#000" stroke-width="2"/>
<line x1="1762.80" y1="80.40" x2="1762.80" y2="86.20" stroke="#000" stroke-width="2"/>
<line x1="1802.60" y1="80.40" x2="1802.60" y2="86.20" stroke="#000" stroke-width="2"/>
<path d="M1168.00,110.90 C1170.33,109.78 1176.55,106.55 1182.00,104.20 C1187.45,101.85 1192.03,99.67 1200.70,96.80 C1209.37,93.93 1223.32,89.77 1234.00,87.00 C1244.68,84.23 1254.53,82.25 1264.80,80.20 C1275.07,78.15 1284.30,76.45 1295.60,74.70 C1306.90,72.95 1322.95,70.93 1332.60,69.70 C1342.25,68.47 1348.77,67.82 1353.50,67.30 C1358.23,66.78 1359.75,66.72 1361.00,66.60" stroke="#d4d4d4" stroke-width="4.0" fill="none" stroke-linecap="round" stroke-linejoin="round"/>
<circle cx="1364.50" cy="66.20" r="2.3" fill="#d4d4d4"/><circle cx="1368.30" cy="65.80" r="2.3" fill="#d4d4d4"/><circle cx="1375.10" cy="65.20" r="2.3" fill="#d4d4d4"/>
<path d="M1599.90,111.60 C1602.37,110.37 1608.13,107.48 1614.70,104.20 C1621.27,100.92 1631.08,95.18 1639.30,91.90 C1647.52,88.62 1656.80,86.55 1664.00,84.50 C1671.20,82.45 1676.33,81.13 1682.50,79.60 C1688.67,78.07 1693.82,76.95 1701.00,75.30 C1708.18,73.65 1719.03,71.08 1725.60,69.70 C1732.17,68.32 1737.93,67.45 1740.40,67.00" stroke="#d4d4d4" stroke-width="4.0" fill="none" stroke-linecap="round" stroke-linejoin="round"/>
<circle cx="1745.50" cy="66.30" r="2.3" fill="#d4d4d4"/><circle cx="1748.50" cy="65.80" r="2.3" fill="#d4d4d4"/><circle cx="1755.20" cy="64.50" r="2.3" fill="#d4d4d4"/>
<path d="M1114.90,188.40 C1115.15,186.67 1115.88,180.95 1116.40,178.00 C1116.92,175.05 1117.47,172.95 1118.00,170.70 C1118.53,168.45 1119.00,166.57 1119.60,164.50 C1120.20,162.43 1120.73,160.55 1121.60,158.30 C1122.47,156.05 1123.67,153.27 1124.80,151.00 C1125.93,148.73 1127.02,146.78 1128.40,144.70 C1129.78,142.62 1131.45,140.57 1133.10,138.50 C1134.75,136.43 1136.40,134.30 1138.30,132.30 C1140.20,130.30 1142.42,128.25 1144.50,126.50 C1146.58,124.75 1148.53,123.35 1150.80,121.80 C1153.07,120.25 1155.85,118.67 1158.10,117.20 C1160.35,115.73 1162.65,114.05 1164.30,113.00 C1165.95,111.95 1167.38,111.25 1168.00,110.90" stroke="#00a651" stroke-width="4.7" fill="none" stroke-linecap="round" stroke-linejoin="round"/>
<circle cx="1114.50" cy="193.50" r="2.4" fill="#00a651"/><circle cx="1113.90" cy="200.50" r="2.4" fill="#00a651"/><circle cx="1113.90" cy="203.90" r="2.4" fill="#00a651"/><circle cx="1113.30" cy="208.60" r="2.4" fill="#00a651"/><circle cx="1112.70" cy="212.60" r="2.4" fill="#00a651"/><circle cx="1112.40" cy="216.50" r="2.4" fill="#00a651"/><circle cx="1112.20" cy="219.00" r="2.4" fill="#00a651"/><circle cx="1112.20" cy="222.00" r="2.4" fill="#00a651"/><circle cx="1112.20" cy="224.70" r="2.4" fill="#00a651"/><circle cx="1112.20" cy="227.50" r="2.4" fill="#00a651"/><circle cx="1112.20" cy="229.40" r="2.4" fill="#00a651"/><circle cx="1111.80" cy="232.50" r="2.4" fill="#00a651"/><circle cx="1111.60" cy="235.10" r="2.4" fill="#00a651"/><circle cx="1111.60" cy="238.00" r="2.4" fill="#00a651"/><circle cx="1111.60" cy="240.90" r="2.4" fill="#00a651"/><circle cx="1111.40" cy="243.50" r="2.4" fill="#00a651"/><circle cx="1111.20" cy="245.50" r="2.4" fill="#00a651"/><circle cx="1111.20" cy="251.30" r="2.4" fill="#00a651"/>
<path d="M1539.10,179.00 C1539.78,177.38 1541.95,172.07 1543.20,169.30 C1544.45,166.53 1545.35,164.70 1546.60,162.40 C1547.85,160.10 1549.08,158.05 1550.70,155.50 C1552.32,152.95 1554.22,149.88 1556.30,147.10 C1558.38,144.32 1560.67,141.57 1563.20,138.80 C1565.73,136.03 1568.50,133.03 1571.50,130.50 C1574.50,127.97 1577.97,125.82 1581.20,123.60 C1584.43,121.38 1587.83,119.10 1590.90,117.20 C1593.97,115.30 1598.15,113.03 1599.60,112.20" stroke="#f7941d" stroke-width="4.7" fill="none" stroke-linecap="round" stroke-linejoin="round"/>
<path d="M1539.10,178.50 C1538.32,180.82 1535.18,190.08 1534.40,192.40" stroke="#f7941d" stroke-width="4.6" fill="none" stroke-linecap="round"/>
<path d="M1531.70,207.20 C1531.23,209.37 1529.37,218.03 1528.90,220.20" stroke="#f7941d" stroke-width="4.6" fill="none" stroke-linecap="round"/>
<path d="M1528.00,226.70 C1527.83,228.92 1527.32,235.68 1527.00,240.00 C1526.68,244.32 1526.25,250.50 1526.10,252.60" stroke="#f7941d" stroke-width="4.6" fill="none" stroke-linecap="round"/>
<path d="M1525.20,281.30 C1525.13,282.75 1524.95,287.38 1524.80,290.00 C1524.65,292.62 1524.38,295.83 1524.30,297.00" stroke="#f7941d" stroke-width="4.6" fill="none" stroke-linecap="round"/>
<path d="M1524.30,306.30 C1524.23,307.23 1523.97,310.97 1523.90,311.90" stroke="#f7941d" stroke-width="4.6" fill="none" stroke-linecap="round"/>
<circle cx="1526.50" cy="260.00" r="2.4" fill="#f7941d"/><circle cx="1526.10" cy="265.90" r="2.4" fill="#f7941d"/><circle cx="1525.20" cy="274.40" r="2.4" fill="#f7941d"/>
<text x="1091.64" y="56.30" font-family='"Liberation Sans", sans-serif' font-size="18.40" fill="#000" textLength="10.23" lengthAdjust="spacingAndGlyphs">5</text>
<text x="1091.59" y="87.50" font-family='"Liberation Sans", sans-serif' font-size="18.40" fill="#000" textLength="10.23" lengthAdjust="spacingAndGlyphs">0</text>
<text x="1085.51" y="118.70" font-family='"Liberation Sans", sans-serif' font-size="18.40" fill="#000" textLength="16.36" lengthAdjust="spacingAndGlyphs">-5</text>
<text x="1075.22" y="149.90" font-family='"Liberation Sans", sans-serif' font-size="18.40" fill="#000" textLength="26.59" lengthAdjust="spacingAndGlyphs">-10</text>
<text x="1075.28" y="181.10" font-family='"Liberation Sans", sans-serif' font-size="18.40" fill="#000" textLength="26.59" lengthAdjust="spacingAndGlyphs">-15</text>
<text x="1075.22" y="212.30" font-family='"Liberation Sans", sans-serif' font-size="18.40" fill="#000" textLength="26.59" lengthAdjust="spacingAndGlyphs">-20</text>
<text x="1075.28" y="243.50" font-family='"Liberation Sans", sans-serif' font-size="18.40" fill="#000" textLength="26.59" lengthAdjust="spacingAndGlyphs">-25</text>
<text x="1075.22" y="274.70" font-family='"Liberation Sans", sans-serif' font-size="18.40" fill="#000" textLength="26.59" lengthAdjust="spacingAndGlyphs">-30</text>
<text x="1075.28" y="305.90" font-family='"Liberation Sans", sans-serif' font-size="18.40" fill="#000" textLength="26.59" lengthAdjust="spacingAndGlyphs">-35</text>
<text x="1075.22" y="337.10" font-family='"Liberation Sans", sans-serif' font-size="18.40" fill="#000" textLength="26.59" lengthAdjust="spacingAndGlyphs">-40</text>
<text x="1140.49" y="107.60" font-family='"Liberation Sans", sans-serif' font-size="18.40" fill="#000" textLength="20.47" lengthAdjust="spacingAndGlyphs">25</text>
<text x="1180.36" y="107.60" font-family='"Liberation Sans", sans-serif' font-size="18.40" fill="#000" textLength="20.47" lengthAdjust="spacingAndGlyphs">50</text>
<text x="1220.08" y="107.60" font-family='"Liberation Sans", sans-serif' font-size="18.40" fill="#000" textLength="20.47" lengthAdjust="spacingAndGlyphs">75</text>
<text x="1254.32" y="107.60" font-family='"Liberation Sans", sans-serif' font-size="18.40" fill="#000" textLength="30.70" lengthAdjust="spacingAndGlyphs">100</text>
<text x="1294.15" y="107.60" font-family='"Liberation Sans", sans-serif' font-size="18.40" fill="#000" textLength="30.70" lengthAdjust="spacingAndGlyphs">125</text>
<text x="1333.92" y="107.60" font-family='"Liberation Sans", sans-serif' font-size="18.40" fill="#000" textLength="30.70" lengthAdjust="spacingAndGlyphs">150</text>
<text x="1373.75" y="107.60" font-family='"Liberation Sans", sans-serif' font-size="18.40" fill="#000" textLength="30.70" lengthAdjust="spacingAndGlyphs">175</text>
<text x="1504.64" y="56.30" font-family='"Liberation Sans", sans-serif' font-size="18.40" fill="#000" textLength="10.23" lengthAdjust="spacingAndGlyphs">5</text>
<text x="1504.59" y="87.50" font-family='"Liberation Sans", sans-serif' font-size="18.40" fill="#000" textLength="10.23" lengthAdjust="spacingAndGlyphs">0</text>
<text x="1498.51" y="118.70" font-family='"Liberation Sans", sans-serif' font-size="18.40" fill="#000" textLength="16.36" lengthAdjust="spacingAndGlyphs">-5</text>
<text x="1488.22" y="149.90" font-family='"Liberation Sans", sans-serif' font-size="18.40" fill="#000" textLength="26.59" lengthAdjust="spacingAndGlyphs">-10</text>
<text x="1488.28" y="181.10" font-family='"Liberation Sans", sans-serif' font-size="18.40" fill="#000" textLength="26.59" lengthAdjust="spacingAndGlyphs">-15</text>
<text x="1488.22" y="212.30" font-family='"Liberation Sans", sans-serif' font-size="18.40" fill="#000" textLength="26.59" lengthAdjust="spacingAndGlyphs">-20</text>
<text x="1488.28" y="243.50" font-family='"Liberation Sans", sans-serif' font-size="18.40" fill="#000" textLength="26.59" lengthAdjust="spacingAndGlyphs">-25</text>
<text x="1488.22" y="274.70" font-family='"Liberation Sans", sans-serif' font-size="18.40" fill="#000" textLength="26.59" lengthAdjust="spacingAndGlyphs">-30</text>
<text x="1488.28" y="305.90" font-family='"Liberation Sans", sans-serif' font-size="18.40" fill="#000" textLength="26.59" lengthAdjust="spacingAndGlyphs">-35</text>
<text x="1488.22" y="337.10" font-family='"Liberation Sans", sans-serif' font-size="18.40" fill="#000" textLength="26.59" lengthAdjust="spacingAndGlyphs">-40</text>
<text x="1553.49" y="107.60" font-family='"Liberation Sans", sans-serif' font-size="18.40" fill="#000" textLength="20.47" lengthAdjust="spacingAndGlyphs">25</text>
<text x="1593.36" y="107.60" font-family='"Liberation Sans", sans-serif' font-size="18.40" fill="#000" textLength="20.47" lengthAdjust="spacingAndGlyphs">50</text>
<text x="1633.08" y="107.60" font-family='"Liberation Sans", sans-serif' font-size="18.40" fill="#000" textLength="20.47" lengthAdjust="spacingAndGlyphs">75</text>
<text x="1667.32" y="107.60" font-family='"Liberation Sans", sans-serif' font-size="18.40" fill="#000" textLength="30.70" lengthAdjust="spacingAndGlyphs">100</text>
<text x="1707.15" y="107.60" font-family='"Liberation Sans", sans-serif' font-size="18.40" fill="#000" textLength="30.70" lengthAdjust="spacingAndGlyphs">125</text>
<text x="1746.92" y="107.60" font-family='"Liberation Sans", sans-serif' font-size="18.40" fill="#000" textLength="30.70" lengthAdjust="spacingAndGlyphs">150</text>
<text x="1786.75" y="107.60" font-family='"Liberation Sans", sans-serif' font-size="18.40" fill="#000" textLength="30.70" lengthAdjust="spacingAndGlyphs">175</text>
<text x="1133.79" y="171.80" font-family='"Liberation Sans", sans-serif' font-size="19.60" font-weight="bold" fill="#00a651" textLength="34.35" lengthAdjust="spacingAndGlyphs">113</text>
<text x="1216.26" y="179.40" font-family='"Liberation Sans", sans-serif' font-size="45.60" fill="#00a651" textLength="86.22" lengthAdjust="spacingAndGlyphs">NF1</text>
<text x="1300.03" y="164.90" font-family='"Liberation Sans", sans-serif' font-size="27.50" fill="#00a651" textLength="67.59" lengthAdjust="spacingAndGlyphs">KO_1</text>
<text x="1559.41" y="183.90" font-family='"Liberation Sans", sans-serif' font-size="20.50" font-weight="bold" fill="#f7941d" textLength="36.40" lengthAdjust="spacingAndGlyphs">125</text>
<text x="1622.69" y="179.40" font-family='"Liberation Sans", sans-serif' font-size="45.60" fill="#f7941d" textLength="85.38" lengthAdjust="spacingAndGlyphs">NF1</text>
<text x="1706.07" y="164.90" font-family='"Liberation Sans", sans-serif' font-size="27.50" fill="#f7941d" textLength="66.33" lengthAdjust="spacingAndGlyphs">KO_2</text>
<text x="-1.28" y="401.60" font-family='"Liberation Sans", sans-serif' font-size="71.80" fill="#000" textLength="42.42" lengthAdjust="spacingAndGlyphs">C</text>
<line x1="74.50" y1="429.50" x2="74.50" y2="791.00" stroke="#000" stroke-width="2.1"/>
<line x1="73.50" y1="790.00" x2="435.00" y2="790.00" stroke="#000" stroke-width="2.1"/>
<line x1="70.00" y1="790.00" x2="74.50" y2="790.00" stroke="#000" stroke-width="1.6"/>
<text x="51.88" y="798.40" font-family='"Liberation Sans", sans-serif' font-size="24.60" fill="#000" textLength="13.68" lengthAdjust="spacingAndGlyphs">0</text>
<line x1="72.10" y1="762.91" x2="74.50" y2="762.91" stroke="#000" stroke-width="1.1"/>
<line x1="72.10" y1="747.06" x2="74.50" y2="747.06" stroke="#000" stroke-width="1.1"/>
<line x1="72.10" y1="735.81" x2="74.50" y2="735.81" stroke="#000" stroke-width="1.1"/>
<line x1="72.10" y1="727.09" x2="74.50" y2="727.09" stroke="#000" stroke-width="1.1"/>
<line x1="72.10" y1="719.97" x2="74.50" y2="719.97" stroke="#000" stroke-width="1.1"/>
<line x1="72.10" y1="713.94" x2="74.50" y2="713.94" stroke="#000" stroke-width="1.1"/>
<line x1="72.10" y1="708.72" x2="74.50" y2="708.72" stroke="#000" stroke-width="1.1"/>
<line x1="72.10" y1="704.12" x2="74.50" y2="704.12" stroke="#000" stroke-width="1.1"/>
<line x1="70.00" y1="700.00" x2="74.50" y2="700.00" stroke="#000" stroke-width="1.6"/>
<text x="56.24" y="708.40" font-family='"Liberation Sans", sans-serif' font-size="24.60" fill="#000" textLength="13.68" lengthAdjust="spacingAndGlyphs">1</text>
<line x1="72.10" y1="672.91" x2="74.50" y2="672.91" stroke="#000" stroke-width="1.1"/>
<line x1="72.10" y1="657.06" x2="74.50" y2="657.06" stroke="#000" stroke-width="1.1"/>
<line x1="72.10" y1="645.81" x2="74.50" y2="645.81" stroke="#000" stroke-width="1.1"/>
<line x1="72.10" y1="637.09" x2="74.50" y2="637.09" stroke="#000" stroke-width="1.1"/>
<line x1="72.10" y1="629.97" x2="74.50" y2="629.97" stroke="#000" stroke-width="1.1"/>
<line x1="72.10" y1="623.94" x2="74.50" y2="623.94" stroke="#000" stroke-width="1.1"/>
<line x1="72.10" y1="618.72" x2="74.50" y2="618.72" stroke="#000" stroke-width="1.1"/>
<line x1="72.10" y1="614.12" x2="74.50" y2="614.12" stroke="#000" stroke-width="1.1"/>
<line x1="70.00" y1="610.00" x2="74.50" y2="610.00" stroke="#000" stroke-width="1.6"/>
<text x="52.16" y="618.40" font-family='"Liberation Sans", sans-serif' font-size="24.60" fill="#000" textLength="13.68" lengthAdjust="spacingAndGlyphs">2</text>
<line x1="72.10" y1="582.91" x2="74.50" y2="582.91" stroke="#000" stroke-width="1.1"/>
<line x1="72.10" y1="567.06" x2="74.50" y2="567.06" stroke="#000" stroke-width="1.1"/>
<line x1="72.10" y1="555.81" x2="74.50" y2="555.81" stroke="#000" stroke-width="1.1"/>
<line x1="72.10" y1="547.09" x2="74.50" y2="547.09" stroke="#000" stroke-width="1.1"/>
<line x1="72.10" y1="539.97" x2="74.50" y2="539.97" stroke="#000" stroke-width="1.1"/>
<line x1="72.10" y1="533.94" x2="74.50" y2="533.94" stroke="#000" stroke-width="1.1"/>
<line x1="72.10" y1="528.72" x2="74.50" y2="528.72" stroke="#000" stroke-width="1.1"/>
<line x1="72.10" y1="524.12" x2="74.50" y2="524.12" stroke="#000" stroke-width="1.1"/>
<line x1="70.00" y1="520.00" x2="74.50" y2="520.00" stroke="#000" stroke-width="1.6"/>
<text x="52.00" y="528.40" font-family='"Liberation Sans", sans-serif' font-size="24.60" fill="#000" textLength="13.68" lengthAdjust="spacingAndGlyphs">3</text>
<line x1="72.10" y1="492.91" x2="74.50" y2="492.91" stroke="#000" stroke-width="1.1"/>
<line x1="72.10" y1="477.06" x2="74.50" y2="477.06" stroke="#000" stroke-width="1.1"/>
<line x1="72.10" y1="465.81" x2="74.50" y2="465.81" stroke="#000" stroke-width="1.1"/>
<line x1="72.10" y1="457.09" x2="74.50" y2="457.09" stroke="#000" stroke-width="1.1"/>
<line x1="72.10" y1="449.97" x2="74.50" y2="449.97" stroke="#000" stroke-width="1.1"/>
<line x1="72.10" y1="443.94" x2="74.50" y2="443.94" stroke="#000" stroke-width="1.1"/>
<line x1="72.10" y1="438.72" x2="74.50" y2="438.72" stroke="#000" stroke-width="1.1"/>
<line x1="72.10" y1="434.12" x2="74.50" y2="434.12" stroke="#000" stroke-width="1.1"/>
<line x1="70.00" y1="430.00" x2="74.50" y2="430.00" stroke="#000" stroke-width="1.6"/>
<text x="51.64" y="438.40" font-family='"Liberation Sans", sans-serif' font-size="24.60" fill="#000" textLength="13.68" lengthAdjust="spacingAndGlyphs">4</text>
<line x1="74.50" y1="790.00" x2="74.50" y2="794.50" stroke="#000" stroke-width="1.8"/>
<text x="67.66" y="822.20" font-family='"Liberation Sans", sans-serif' font-size="24.60" fill="#000" textLength="13.68" lengthAdjust="spacingAndGlyphs">0</text>
<line x1="146.40" y1="790.00" x2="146.40" y2="794.50" stroke="#000" stroke-width="1.8"/>
<text x="132.62" y="822.20" font-family='"Liberation Sans", sans-serif' font-size="24.60" fill="#000" textLength="27.36" lengthAdjust="spacingAndGlyphs">25</text>
<line x1="218.30" y1="790.00" x2="218.30" y2="794.50" stroke="#000" stroke-width="1.8"/>
<text x="204.61" y="822.20" font-family='"Liberation Sans", sans-serif' font-size="24.60" fill="#000" textLength="27.36" lengthAdjust="spacingAndGlyphs">50</text>
<line x1="290.20" y1="790.00" x2="290.20" y2="794.50" stroke="#000" stroke-width="1.8"/>
<text x="276.40" y="822.20" font-family='"Liberation Sans", sans-serif' font-size="24.60" fill="#000" textLength="27.36" lengthAdjust="spacingAndGlyphs">75</text>
<line x1="362.10" y1="790.00" x2="362.10" y2="794.50" stroke="#000" stroke-width="1.8"/>
<text x="340.88" y="822.20" font-family='"Liberation Sans", sans-serif' font-size="24.60" fill="#000" textLength="41.04" lengthAdjust="spacingAndGlyphs">100</text>
<line x1="434.00" y1="790.00" x2="434.00" y2="794.50" stroke="#000" stroke-width="1.8"/>
<text x="412.81" y="822.20" font-family='"Liberation Sans", sans-serif' font-size="24.60" fill="#000" textLength="41.04" lengthAdjust="spacingAndGlyphs">125</text>
<line x1="489.30" y1="430.00" x2="489.30" y2="790.60" stroke="#000" stroke-width="2.1"/>
<line x1="488.30" y1="789.60" x2="849.80" y2="789.60" stroke="#000" stroke-width="2.1"/>
<line x1="484.80" y1="789.60" x2="489.30" y2="789.60" stroke="#000" stroke-width="1.6"/>
<text x="471.94" y="798.00" font-family='"Liberation Sans", sans-serif' font-size="24.60" fill="#000" textLength="13.68" lengthAdjust="spacingAndGlyphs">1</text>
<line x1="486.90" y1="753.57" x2="489.30" y2="753.57" stroke="#000" stroke-width="1.1"/>
<line x1="486.90" y1="732.49" x2="489.30" y2="732.49" stroke="#000" stroke-width="1.1"/>
<line x1="486.90" y1="717.53" x2="489.30" y2="717.53" stroke="#000" stroke-width="1.1"/>
<line x1="486.90" y1="705.93" x2="489.30" y2="705.93" stroke="#000" stroke-width="1.1"/>
<line x1="486.90" y1="696.46" x2="489.30" y2="696.46" stroke="#000" stroke-width="1.1"/>
<line x1="486.90" y1="688.44" x2="489.30" y2="688.44" stroke="#000" stroke-width="1.1"/>
<line x1="486.90" y1="681.50" x2="489.30" y2="681.50" stroke="#000" stroke-width="1.1"/>
<line x1="486.90" y1="675.38" x2="489.30" y2="675.38" stroke="#000" stroke-width="1.1"/>
<line x1="484.80" y1="669.90" x2="489.30" y2="669.90" stroke="#000" stroke-width="1.6"/>
<text x="467.86" y="678.30" font-family='"Liberation Sans", sans-serif' font-size="24.60" fill="#000" textLength="13.68" lengthAdjust="spacingAndGlyphs">2</text>
<line x1="486.90" y1="633.87" x2="489.30" y2="633.87" stroke="#000" stroke-width="1.1"/>
<line x1="486.90" y1="612.79" x2="489.30" y2="612.79" stroke="#000" stroke-width="1.1"/>
<line x1="486.90" y1="597.83" x2="489.30" y2="597.83" stroke="#000" stroke-width="1.1"/>
<line x1="486.90" y1="586.23" x2="489.30" y2="586.23" stroke="#000" stroke-width="1.1"/>
<line x1="486.90" y1="576.76" x2="489.30" y2="576.76" stroke="#000" stroke-width="1.1"/>
<line x1="486.90" y1="568.74" x2="489.30" y2="568.74" stroke="#000" stroke-width="1.1"/>
<line x1="486.90" y1="561.80" x2="489.30" y2="561.80" stroke="#000" stroke-width="1.1"/>
<line x1="486.90" y1="555.68" x2="489.30" y2="555.68" stroke="#000" stroke-width="1.1"/>
<line x1="484.80" y1="550.20" x2="489.30" y2="550.20" stroke="#000" stroke-width="1.6"/>
<text x="467.70" y="558.60" font-family='"Liberation Sans", sans-serif' font-size="24.60" fill="#000" textLength="13.68" lengthAdjust="spacingAndGlyphs">3</text>
<line x1="486.90" y1="514.17" x2="489.30" y2="514.17" stroke="#000" stroke-width="1.1"/>
<line x1="486.90" y1="493.09" x2="489.30" y2="493.09" stroke="#000" stroke-width="1.1"/>
<line x1="486.90" y1="478.13" x2="489.30" y2="478.13" stroke="#000" stroke-width="1.1"/>
<line x1="486.90" y1="466.53" x2="489.30" y2="466.53" stroke="#000" stroke-width="1.1"/>
<line x1="486.90" y1="457.06" x2="489.30" y2="457.06" stroke="#000" stroke-width="1.1"/>
<line x1="486.90" y1="449.04" x2="489.30" y2="449.04" stroke="#000" stroke-width="1.1"/>
<line x1="486.90" y1="442.10" x2="489.30" y2="442.10" stroke="#000" stroke-width="1.1"/>
<line x1="486.90" y1="435.98" x2="489.30" y2="435.98" stroke="#000" stroke-width="1.1"/>
<line x1="484.80" y1="430.50" x2="489.30" y2="430.50" stroke="#000" stroke-width="1.6"/>
<text x="467.34" y="438.90" font-family='"Liberation Sans", sans-serif' font-size="24.60" fill="#000" textLength="13.68" lengthAdjust="spacingAndGlyphs">4</text>
<line x1="489.30" y1="789.60" x2="489.30" y2="794.10" stroke="#000" stroke-width="1.8"/>
<text x="482.46" y="822.20" font-family='"Liberation Sans", sans-serif' font-size="24.60" fill="#000" textLength="13.68" lengthAdjust="spacingAndGlyphs">0</text>
<line x1="561.20" y1="789.60" x2="561.20" y2="794.10" stroke="#000" stroke-width="1.8"/>
<text x="547.42" y="822.20" font-family='"Liberation Sans", sans-serif' font-size="24.60" fill="#000" textLength="27.36" lengthAdjust="spacingAndGlyphs">25</text>
<line x1="633.10" y1="789.60" x2="633.10" y2="794.10" stroke="#000" stroke-width="1.8"/>
<text x="619.41" y="822.20" font-family='"Liberation Sans", sans-serif' font-size="24.60" fill="#000" textLength="27.36" lengthAdjust="spacingAndGlyphs">50</text>
<line x1="705.00" y1="789.60" x2="705.00" y2="794.10" stroke="#000" stroke-width="1.8"/>
<text x="691.20" y="822.20" font-family='"Liberation Sans", sans-serif' font-size="24.60" fill="#000" textLength="27.36" lengthAdjust="spacingAndGlyphs">75</text>
<line x1="776.90" y1="789.60" x2="776.90" y2="794.10" stroke="#000" stroke-width="1.8"/>
<text x="755.68" y="822.20" font-family='"Liberation Sans", sans-serif' font-size="24.60" fill="#000" textLength="41.04" lengthAdjust="spacingAndGlyphs">100</text>
<line x1="848.80" y1="789.60" x2="848.80" y2="794.10" stroke="#000" stroke-width="1.8"/>
<text x="827.61" y="822.20" font-family='"Liberation Sans", sans-serif' font-size="24.60" fill="#000" textLength="41.04" lengthAdjust="spacingAndGlyphs">125</text>
<circle cx="336.80" cy="436.70" r="3.6" fill="#d3d3d3"/><circle cx="349.70" cy="438.30" r="3.6" fill="#d3d3d3"/><circle cx="317.00" cy="455.00" r="3.6" fill="#d3d3d3"/><circle cx="321.10" cy="451.20" r="3.6" fill="#d3d3d3"/><circle cx="325.30" cy="448.70" r="3.6" fill="#d3d3d3"/><circle cx="324.90" cy="452.30" r="3.6" fill="#d3d3d3"/><circle cx="345.10" cy="451.60" r="3.6" fill="#d3d3d3"/><circle cx="352.00" cy="451.60" r="3.6" fill="#d3d3d3"/><circle cx="350.30" cy="457.50" r="3.6" fill="#d3d3d3"/><circle cx="336.80" cy="464.80" r="3.6" fill="#d3d3d3"/><circle cx="339.90" cy="466.80" r="3.6" fill="#d3d3d3"/><circle cx="346.10" cy="463.30" r="3.6" fill="#d3d3d3"/><circle cx="348.20" cy="468.30" r="3.6" fill="#d3d3d3"/><circle cx="335.70" cy="471.00" r="3.6" fill="#d3d3d3"/><circle cx="327.40" cy="466.80" r="3.6" fill="#d3d3d3"/><circle cx="359.60" cy="465.40" r="3.6" fill="#d3d3d3"/><circle cx="361.10" cy="469.30" r="3.6" fill="#d3d3d3"/><circle cx="366.90" cy="468.90" r="3.6" fill="#d3d3d3"/><circle cx="398.20" cy="468.90" r="3.6" fill="#d3d3d3"/><circle cx="348.20" cy="473.70" r="3.6" fill="#d3d3d3"/><circle cx="352.00" cy="475.80" r="3.6" fill="#d3d3d3"/><circle cx="307.60" cy="474.10" r="3.6" fill="#d3d3d3"/><circle cx="292.40" cy="469.50" r="3.6" fill="#d3d3d3"/><circle cx="282.60" cy="470.60" r="3.6" fill="#d3d3d3"/><circle cx="273.30" cy="476.60" r="3.6" fill="#d3d3d3"/><circle cx="276.40" cy="476.20" r="3.6" fill="#d3d3d3"/><circle cx="232.00" cy="473.70" r="3.6" fill="#d3d3d3"/><circle cx="238.30" cy="480.40" r="3.6" fill="#d3d3d3"/><circle cx="327.00" cy="481.00" r="3.6" fill="#d3d3d3"/><circle cx="329.90" cy="486.20" r="3.6" fill="#d3d3d3"/><circle cx="333.60" cy="492.90" r="3.6" fill="#d3d3d3"/><circle cx="297.20" cy="483.50" r="3.6" fill="#d3d3d3"/><circle cx="292.40" cy="487.00" r="3.6" fill="#d3d3d3"/><circle cx="296.60" cy="497.40" r="3.6" fill="#d3d3d3"/><circle cx="298.20" cy="502.60" r="3.6" fill="#d3d3d3"/><circle cx="308.70" cy="507.40" r="3.6" fill="#d3d3d3"/><circle cx="325.30" cy="504.70" r="3.6" fill="#d3d3d3"/><circle cx="259.10" cy="498.70" r="3.6" fill="#d3d3d3"/><circle cx="262.40" cy="503.70" r="3.6" fill="#d3d3d3"/><circle cx="268.70" cy="504.90" r="3.6" fill="#d3d3d3"/><circle cx="276.40" cy="504.30" r="3.6" fill="#d3d3d3"/><circle cx="288.30" cy="525.10" r="3.6" fill="#d3d3d3"/><circle cx="243.50" cy="529.30" r="3.6" fill="#d3d3d3"/><circle cx="271.20" cy="549.10" r="3.6" fill="#d3d3d3"/><circle cx="274.30" cy="551.10" r="3.6" fill="#d3d3d3"/><circle cx="284.70" cy="547.40" r="3.6" fill="#d3d3d3"/><circle cx="263.90" cy="561.10" r="3.6" fill="#d3d3d3"/><circle cx="214.40" cy="578.80" r="3.6" fill="#d3d3d3"/><circle cx="256.60" cy="580.70" r="3.6" fill="#d3d3d3"/><circle cx="126.20" cy="471.80" r="3.6" fill="#d3d3d3"/><circle cx="136.40" cy="466.00" r="3.6" fill="#d3d3d3"/>
<circle cx="754.00" cy="433.60" r="3.6" fill="#d3d3d3"/><circle cx="710.80" cy="463.20" r="3.6" fill="#d3d3d3"/><circle cx="718.40" cy="462.90" r="3.6" fill="#d3d3d3"/><circle cx="706.50" cy="473.70" r="3.6" fill="#d3d3d3"/><circle cx="731.40" cy="471.50" r="3.6" fill="#d3d3d3"/><circle cx="741.60" cy="472.80" r="3.6" fill="#d3d3d3"/><circle cx="769.60" cy="470.50" r="3.6" fill="#d3d3d3"/><circle cx="772.50" cy="473.40" r="3.6" fill="#d3d3d3"/><circle cx="778.00" cy="482.80" r="3.6" fill="#d3d3d3"/><circle cx="780.40" cy="480.70" r="3.6" fill="#d3d3d3"/><circle cx="752.80" cy="477.00" r="3.6" fill="#d3d3d3"/><circle cx="678.20" cy="480.40" r="3.6" fill="#d3d3d3"/><circle cx="663.60" cy="485.70" r="3.6" fill="#d3d3d3"/><circle cx="621.80" cy="490.20" r="3.6" fill="#d3d3d3"/><circle cx="706.00" cy="490.10" r="3.6" fill="#d3d3d3"/><circle cx="706.50" cy="497.00" r="3.6" fill="#d3d3d3"/><circle cx="712.10" cy="486.70" r="3.6" fill="#d3d3d3"/><circle cx="718.10" cy="488.00" r="3.6" fill="#d3d3d3"/><circle cx="723.00" cy="482.30" r="3.6" fill="#d3d3d3"/><circle cx="724.30" cy="490.40" r="3.6" fill="#d3d3d3"/><circle cx="728.60" cy="484.70" r="3.6" fill="#d3d3d3"/><circle cx="734.30" cy="486.00" r="3.6" fill="#d3d3d3"/><circle cx="743.20" cy="486.30" r="3.6" fill="#d3d3d3"/><circle cx="745.60" cy="482.30" r="3.6" fill="#d3d3d3"/><circle cx="747.20" cy="488.00" r="3.6" fill="#d3d3d3"/><circle cx="747.20" cy="494.10" r="3.6" fill="#d3d3d3"/><circle cx="755.30" cy="494.10" r="3.6" fill="#d3d3d3"/><circle cx="753.70" cy="485.50" r="3.6" fill="#d3d3d3"/><circle cx="760.20" cy="484.70" r="3.6" fill="#d3d3d3"/><circle cx="765.00" cy="484.40" r="3.6" fill="#d3d3d3"/><circle cx="735.90" cy="500.60" r="3.6" fill="#d3d3d3"/><circle cx="710.80" cy="510.90" r="3.6" fill="#d3d3d3"/><circle cx="718.60" cy="517.60" r="3.6" fill="#d3d3d3"/><circle cx="676.40" cy="523.10" r="3.6" fill="#d3d3d3"/><circle cx="691.60" cy="528.40" r="3.6" fill="#d3d3d3"/><circle cx="700.60" cy="523.70" r="3.6" fill="#d3d3d3"/><circle cx="647.90" cy="532.90" r="3.6" fill="#d3d3d3"/><circle cx="710.40" cy="537.80" r="3.6" fill="#d3d3d3"/><circle cx="679.80" cy="543.00" r="3.6" fill="#d3d3d3"/><circle cx="676.10" cy="546.90" r="3.6" fill="#d3d3d3"/><circle cx="689.60" cy="552.70" r="3.6" fill="#d3d3d3"/><circle cx="717.20" cy="554.00" r="3.6" fill="#d3d3d3"/><circle cx="719.70" cy="486.30" r="3.6" fill="#d3d3d3"/><circle cx="726.20" cy="487.20" r="3.6" fill="#d3d3d3"/><circle cx="740.80" cy="483.90" r="3.6" fill="#d3d3d3"/><circle cx="749.70" cy="491.20" r="3.6" fill="#d3d3d3"/><circle cx="751.30" cy="484.70" r="3.6" fill="#d3d3d3"/><circle cx="547.50" cy="638.10" r="3.6" fill="#d3d3d3"/><circle cx="795.90" cy="744.10" r="3.6" fill="#d3d3d3"/>
<circle cx="128.00" cy="637.70" r="5.5" fill="#ff8000"/>
<circle cx="160.60" cy="723.20" r="5.5" fill="#ff8000"/>
<circle cx="179.40" cy="633.40" r="5.6" fill="#a00000"/>
<circle cx="190.50" cy="642.30" r="5.6" fill="#a00000"/>
<circle cx="150.00" cy="647.60" r="5.6" fill="#a00000"/>
<circle cx="157.60" cy="655.90" r="5.6" fill="#a00000"/>
<circle cx="117.40" cy="664.00" r="5.6" fill="#a00000"/>
<text x="74.86" y="631.50" font-family='"Liberation Sans", sans-serif' font-size="18.80" fill="#1a1a1a" textLength="103.17" lengthAdjust="spacingAndGlyphs">Daunorubicin</text>
<text x="183.02" y="632.10" font-family='"Liberation Sans", sans-serif' font-size="18.80" fill="#1a1a1a" textLength="77.80" lengthAdjust="spacingAndGlyphs">Vorinostat</text>
<text x="197.07" y="645.00" font-family='"Liberation Sans", sans-serif' font-size="18.80" fill="#1a1a1a" textLength="91.27" lengthAdjust="spacingAndGlyphs">Digoxigenin</text>
<text x="156.36" y="657.10" font-family='"Liberation Sans", sans-serif' font-size="18.80" fill="#1a1a1a" textLength="95.31" lengthAdjust="spacingAndGlyphs">Niclosamide</text>
<text x="161.95" y="672.10" font-family='"Liberation Sans", sans-serif' font-size="18.80" fill="#1a1a1a" textLength="85.33" lengthAdjust="spacingAndGlyphs">Methiazole</text>
<text x="103.97" y="684.50" font-family='"Liberation Sans", sans-serif' font-size="18.80" fill="#1a1a1a" textLength="149.51" lengthAdjust="spacingAndGlyphs">Pyrvinium pamoate</text>
<text x="168.81" y="729.80" font-family='"Liberation Sans", sans-serif' font-size="18.80" fill="#1a1a1a" textLength="84.87" lengthAdjust="spacingAndGlyphs">Cytarabine</text>
<circle cx="569.70" cy="640.50" r="5.7" fill="#ff6a00"/>
<circle cx="617.40" cy="607.00" r="5.7" fill="#a00000"/>
<circle cx="640.90" cy="626.40" r="5.7" fill="#a00000"/>
<circle cx="592.80" cy="668.50" r="5.7" fill="#a00000"/>
<circle cx="583.40" cy="690.40" r="5.7" fill="#a00000"/>
<circle cx="544.60" cy="697.20" r="5.7" fill="#a00000"/>
<circle cx="547.80" cy="709.00" r="5.7" fill="#a00000"/>
<text x="625.31" y="611.20" font-family='"Liberation Sans", sans-serif' font-size="18.80" fill="#1a1a1a" textLength="96.01" lengthAdjust="spacingAndGlyphs">Thiostrepton</text>
<text x="650.97" y="630.60" font-family='"Liberation Sans", sans-serif' font-size="18.80" fill="#1a1a1a" textLength="91.37" lengthAdjust="spacingAndGlyphs">Digoxigenin</text>
<text x="576.17" y="646.30" font-family='"Liberation Sans", sans-serif' font-size="18.80" fill="#1a1a1a" textLength="103.07" lengthAdjust="spacingAndGlyphs">Daunorubicin</text>
<text x="600.46" y="674.20" font-family='"Liberation Sans", sans-serif' font-size="18.80" fill="#1a1a1a" textLength="84.92" lengthAdjust="spacingAndGlyphs">Methiazole</text>
<text x="590.82" y="691.70" font-family='"Liberation Sans", sans-serif' font-size="18.80" fill="#1a1a1a" textLength="77.70" lengthAdjust="spacingAndGlyphs">Vorinostat</text>
<text x="552.57" y="704.60" font-family='"Liberation Sans", sans-serif' font-size="18.80" fill="#1a1a1a" textLength="149.51" lengthAdjust="spacingAndGlyphs">Pyrvinium pamoate</text>
<text x="553.86" y="721.90" font-family='"Liberation Sans", sans-serif' font-size="18.80" fill="#1a1a1a" textLength="95.93" lengthAdjust="spacingAndGlyphs">Niclosamide</text>
<text x="162.95" y="860.30" font-family='"Liberation Sans", sans-serif' font-size="37.60" fill="#00a651" textLength="70.30" lengthAdjust="spacingAndGlyphs">NF1</text>
<text x="231.41" y="847.90" font-family='"Liberation Sans", sans-serif' font-size="21.50" fill="#00a651" textLength="55.81" lengthAdjust="spacingAndGlyphs">KO_1</text>
<text x="296.24" y="860.30" font-family='"Liberation Sans", sans-serif' font-size="37.60" fill="#000" textLength="74.22" lengthAdjust="spacingAndGlyphs">DSS</text>
<text x="578.17" y="860.20" font-family='"Liberation Sans", sans-serif' font-size="37.60" fill="#f7941d" textLength="69.83" lengthAdjust="spacingAndGlyphs">NF1</text>
<text x="645.02" y="848.00" font-family='"Liberation Sans", sans-serif' font-size="21.50" fill="#f7941d" textLength="55.47" lengthAdjust="spacingAndGlyphs">KO_2</text>
<text x="710.42" y="860.20" font-family='"Liberation Sans", sans-serif' font-size="37.60" fill="#000" textLength="74.75" lengthAdjust="spacingAndGlyphs">DSS</text>
<text transform="translate(41.30,0) rotate(-90)" x="-763.70" y="0" font-family='"Liberation Sans", sans-serif' font-size="37.60" fill="#00a651" textLength="76.00" lengthAdjust="spacingAndGlyphs">NF1</text>
<text transform="translate(29.50,0) rotate(-90)" x="-693.39" y="0" font-family='"Liberation Sans", sans-serif' font-size="21.00" fill="#00a651" textLength="55.92" lengthAdjust="spacingAndGlyphs">KO_1</text>
<text transform="translate(41.00,0) rotate(-90)" x="-631.59" y="0" font-family='"Liberation Sans", sans-serif' font-size="26.00" fill="#000" textLength="207.86" lengthAdjust="spacingAndGlyphs">D50 (Log10 scale)</text>
<text transform="translate(456.30,0) rotate(-90)" x="-763.12" y="0" font-family='"Liberation Sans", sans-serif' font-size="37.60" fill="#f7941d" textLength="71.96" lengthAdjust="spacingAndGlyphs">NF1</text>
<text transform="translate(444.30,0) rotate(-90)" x="-693.03" y="0" font-family='"Liberation Sans", sans-serif' font-size="21.00" fill="#f7941d" textLength="53.89" lengthAdjust="spacingAndGlyphs">KO_2</text>
<text transform="translate(456.40,0) rotate(-90)" x="-634.20" y="0" font-family='"Liberation Sans", sans-serif' font-size="26.00" fill="#000" textLength="208.78" lengthAdjust="spacingAndGlyphs">D50 (Log10 scale)</text>
<text x="900.10" y="402.20" font-family='"Liberation Sans", sans-serif' font-size="68.80" fill="#000" textLength="51.94" lengthAdjust="spacingAndGlyphs">D</text>
<text x="1123.36" y="446.80" font-family='"Liberation Sans", sans-serif' font-size="37.90" fill="#000" textLength="95.72" lengthAdjust="spacingAndGlyphs">Ba/F3</text>
<text x="1631.21" y="447.40" font-family='"Liberation Sans", sans-serif' font-size="37.90" fill="#000" textLength="74.64" lengthAdjust="spacingAndGlyphs">TF-1</text>
<line x1="982.80" y1="441.80" x2="982.80" y2="793.30" stroke="#000" stroke-width="2.2"/>
<line x1="981.80" y1="792.30" x2="1439.00" y2="792.30" stroke="#000" stroke-width="2.2"/>
<line x1="976.80" y1="792.30" x2="982.80" y2="792.30" stroke="#000" stroke-width="2"/>
<text x="959.97" y="800.00" font-family='"Liberation Sans", sans-serif' font-size="25.00" fill="#000" textLength="13.90" lengthAdjust="spacingAndGlyphs">0</text>
<line x1="976.80" y1="728.86" x2="982.80" y2="728.86" stroke="#000" stroke-width="2"/>
<text x="946.07" y="736.56" font-family='"Liberation Sans", sans-serif' font-size="25.00" fill="#000" textLength="27.81" lengthAdjust="spacingAndGlyphs">20</text>
<line x1="976.80" y1="665.42" x2="982.80" y2="665.42" stroke="#000" stroke-width="2"/>
<text x="946.07" y="673.12" font-family='"Liberation Sans", sans-serif' font-size="25.00" fill="#000" textLength="27.81" lengthAdjust="spacingAndGlyphs">40</text>
<line x1="976.80" y1="601.98" x2="982.80" y2="601.98" stroke="#000" stroke-width="2"/>
<text x="946.07" y="609.68" font-family='"Liberation Sans", sans-serif' font-size="25.00" fill="#000" textLength="27.81" lengthAdjust="spacingAndGlyphs">60</text>
<line x1="976.80" y1="538.54" x2="982.80" y2="538.54" stroke="#000" stroke-width="2"/>
<text x="946.07" y="546.24" font-family='"Liberation Sans", sans-serif' font-size="25.00" fill="#000" textLength="27.81" lengthAdjust="spacingAndGlyphs">80</text>
<line x1="976.80" y1="475.10" x2="982.80" y2="475.10" stroke="#000" stroke-width="2"/>
<text x="932.17" y="482.80" font-family='"Liberation Sans", sans-serif' font-size="25.00" fill="#000" textLength="41.71" lengthAdjust="spacingAndGlyphs">100</text>
<line x1="1017.80" y1="792.30" x2="1017.80" y2="798.30" stroke="#000" stroke-width="2"/>
<text x="999.96" y="824.60" font-family='"Liberation Sans", sans-serif' font-size="24.60" fill="#000" textLength="35.55" lengthAdjust="spacingAndGlyphs">-10</text>
<line x1="1087.80" y1="792.30" x2="1087.80" y2="798.30" stroke="#000" stroke-width="2"/>
<text x="1076.90" y="824.60" font-family='"Liberation Sans", sans-serif' font-size="24.60" fill="#000" textLength="21.87" lengthAdjust="spacingAndGlyphs">-9</text>
<line x1="1157.80" y1="792.30" x2="1157.80" y2="798.30" stroke="#000" stroke-width="2"/>
<text x="1146.85" y="824.60" font-family='"Liberation Sans", sans-serif' font-size="24.60" fill="#000" textLength="21.87" lengthAdjust="spacingAndGlyphs">-8</text>
<line x1="1227.80" y1="792.30" x2="1227.80" y2="798.30" stroke="#000" stroke-width="2"/>
<text x="1216.94" y="824.60" font-family='"Liberation Sans", sans-serif' font-size="24.60" fill="#000" textLength="21.87" lengthAdjust="spacingAndGlyphs">-7</text>
<line x1="1297.80" y1="792.30" x2="1297.80" y2="798.30" stroke="#000" stroke-width="2"/>
<text x="1286.86" y="824.60" font-family='"Liberation Sans", sans-serif' font-size="24.60" fill="#000" textLength="21.87" lengthAdjust="spacingAndGlyphs">-6</text>
<line x1="1367.80" y1="792.30" x2="1367.80" y2="798.30" stroke="#000" stroke-width="2"/>
<text x="1356.83" y="824.60" font-family='"Liberation Sans", sans-serif' font-size="24.60" fill="#000" textLength="21.87" lengthAdjust="spacingAndGlyphs">-5</text>
<line x1="1437.80" y1="792.30" x2="1437.80" y2="798.30" stroke="#000" stroke-width="2"/>
<text x="1426.68" y="824.60" font-family='"Liberation Sans", sans-serif' font-size="24.60" fill="#000" textLength="21.87" lengthAdjust="spacingAndGlyphs">-4</text>
<line x1="1490.20" y1="442.50" x2="1490.20" y2="793.40" stroke="#000" stroke-width="2.2"/>
<line x1="1489.20" y1="792.40" x2="1946.00" y2="792.40" stroke="#000" stroke-width="2.2"/>
<line x1="1484.20" y1="792.40" x2="1490.20" y2="792.40" stroke="#000" stroke-width="2"/>
<text x="1467.57" y="800.10" font-family='"Liberation Sans", sans-serif' font-size="25.00" fill="#000" textLength="13.90" lengthAdjust="spacingAndGlyphs">0</text>
<line x1="1484.20" y1="728.96" x2="1490.20" y2="728.96" stroke="#000" stroke-width="2"/>
<text x="1453.67" y="736.66" font-family='"Liberation Sans", sans-serif' font-size="25.00" fill="#000" textLength="27.81" lengthAdjust="spacingAndGlyphs">20</text>
<line x1="1484.20" y1="665.52" x2="1490.20" y2="665.52" stroke="#000" stroke-width="2"/>
<text x="1453.67" y="673.22" font-family='"Liberation Sans", sans-serif' font-size="25.00" fill="#000" textLength="27.81" lengthAdjust="spacingAndGlyphs">40</text>
<line x1="1484.20" y1="602.08" x2="1490.20" y2="602.08" stroke="#000" stroke-width="2"/>
<text x="1453.67" y="609.78" font-family='"Liberation Sans", sans-serif' font-size="25.00" fill="#000" textLength="27.81" lengthAdjust="spacingAndGlyphs">60</text>
<line x1="1484.20" y1="538.64" x2="1490.20" y2="538.64" stroke="#000" stroke-width="2"/>
<text x="1453.67" y="546.34" font-family='"Liberation Sans", sans-serif' font-size="25.00" fill="#000" textLength="27.81" lengthAdjust="spacingAndGlyphs">80</text>
<line x1="1484.20" y1="475.20" x2="1490.20" y2="475.20" stroke="#000" stroke-width="2"/>
<text x="1439.77" y="482.90" font-family='"Liberation Sans", sans-serif' font-size="25.00" fill="#000" textLength="41.71" lengthAdjust="spacingAndGlyphs">100</text>
<line x1="1528.00" y1="792.40" x2="1528.00" y2="798.40" stroke="#000" stroke-width="2"/>
<text x="1512.34" y="824.60" font-family='"Liberation Sans", sans-serif' font-size="24.60" fill="#000" textLength="35.55" lengthAdjust="spacingAndGlyphs">-11</text>
<line x1="1603.80" y1="792.40" x2="1603.80" y2="798.40" stroke="#000" stroke-width="2"/>
<text x="1585.96" y="824.60" font-family='"Liberation Sans", sans-serif' font-size="24.60" fill="#000" textLength="35.55" lengthAdjust="spacingAndGlyphs">-10</text>
<line x1="1679.60" y1="792.40" x2="1679.60" y2="798.40" stroke="#000" stroke-width="2"/>
<text x="1668.70" y="824.60" font-family='"Liberation Sans", sans-serif' font-size="24.60" fill="#000" textLength="21.87" lengthAdjust="spacingAndGlyphs">-9</text>
<line x1="1755.40" y1="792.40" x2="1755.40" y2="798.40" stroke="#000" stroke-width="2"/>
<text x="1744.45" y="824.60" font-family='"Liberation Sans", sans-serif' font-size="24.60" fill="#000" textLength="21.87" lengthAdjust="spacingAndGlyphs">-8</text>
<line x1="1831.20" y1="792.40" x2="1831.20" y2="798.40" stroke="#000" stroke-width="2"/>
<text x="1820.34" y="824.60" font-family='"Liberation Sans", sans-serif' font-size="24.60" fill="#000" textLength="21.87" lengthAdjust="spacingAndGlyphs">-7</text>
<line x1="1907.00" y1="792.40" x2="1907.00" y2="798.40" stroke="#000" stroke-width="2"/>
<text x="1896.06" y="824.60" font-family='"Liberation Sans", sans-serif' font-size="24.60" fill="#000" textLength="21.87" lengthAdjust="spacingAndGlyphs">-6</text>
<text transform="translate(937.60,0) rotate(-90)" x="-744.85" y="0" font-family='"Liberation Sans", sans-serif' font-size="39.30" fill="#000" textLength="244.58" lengthAdjust="spacingAndGlyphs">Cell viability (%)</text>
<text transform="translate(1444.80,0) rotate(-90)" x="-744.85" y="0" font-family='"Liberation Sans", sans-serif' font-size="39.30" fill="#000" textLength="244.48" lengthAdjust="spacingAndGlyphs">Cell viability (%)</text>
<text x="1011.72" y="855.80" font-family='"Liberation Sans", sans-serif' font-size="39.00" fill="#000" textLength="424.73" lengthAdjust="spacingAndGlyphs">[Pyrvinium pamoate] log(M)</text>
<text x="1518.92" y="855.30" font-family='"Liberation Sans", sans-serif' font-size="39.00" fill="#000" textLength="424.73" lengthAdjust="spacingAndGlyphs">[Pyrvinium pamoate] log(M)</text>
<g fill="#f50f87"><circle cx="986.3" cy="474.7" r="3.9"/><circle cx="1029.8" cy="474.7" r="3.9"/><circle cx="1033.2" cy="474.7" r="3.9"/><circle cx="1013.6" cy="474.7" r="3.9"/><circle cx="1021.5" cy="474.7" r="3.9"/></g>
<g fill="#ff8000"><circle cx="999.7" cy="474.7" r="3.9"/><circle cx="1001.8" cy="474.7" r="3.9"/><circle cx="1011.0" cy="474.7" r="3.9"/><circle cx="1017.8" cy="474.7" r="3.9"/><circle cx="1049.7" cy="474.7" r="3.9"/></g>
<g fill="#00c000"><circle cx="990.0" cy="474.7" r="3.9"/><circle cx="994.0" cy="474.7" r="3.9"/><circle cx="1005.7" cy="474.7" r="3.9"/><circle cx="1025.6" cy="474.7" r="3.9"/></g>
<g fill="#0000ff"><circle cx="1037.2" cy="474.7" r="3.9"/><circle cx="1041.1" cy="474.7" r="3.9"/><circle cx="1045.0" cy="474.7" r="3.9"/></g>
<path d="M1017.80,476.33 L1020.72,476.72 L1023.63,477.14 L1026.55,477.61 L1029.47,478.12 L1032.38,478.68 L1035.30,479.30 L1038.22,479.98 L1041.13,480.72 L1044.05,481.53 L1046.97,482.42 L1049.88,483.39 L1052.80,484.46 L1055.72,485.63 L1058.63,486.90 L1061.55,488.29 L1064.47,489.80 L1067.38,491.45 L1070.30,493.25 L1073.22,495.21 L1076.13,497.33 L1079.05,499.63 L1081.97,502.13 L1084.88,504.82 L1087.80,507.73 L1090.72,510.87 L1093.63,514.24 L1096.55,517.86 L1099.47,521.73 L1102.38,525.87 L1105.30,530.28 L1108.22,534.96 L1111.13,539.92 L1114.05,545.16 L1116.97,550.67 L1119.88,556.46 L1122.80,562.50 L1125.72,568.79 L1128.63,575.32 L1131.55,582.06 L1134.47,589.00 L1137.38,596.10 L1140.30,603.34 L1143.22,610.69 L1146.13,618.11 L1149.05,625.57 L1151.97,633.05 L1154.88,640.49 L1157.80,647.87 L1160.72,655.16 L1163.63,662.32 L1166.55,669.32 L1169.47,676.14 L1172.38,682.75 L1175.30,689.14 L1178.22,695.28 L1181.13,701.17 L1184.05,706.79 L1186.97,712.14 L1189.88,717.21 L1192.80,722.00 L1195.72,726.52 L1198.63,730.76 L1201.55,734.74 L1204.47,738.46 L1207.38,741.92 L1210.30,745.15 L1213.22,748.15 L1216.13,750.93 L1219.05,753.50 L1221.97,755.87 L1224.88,758.07 L1227.80,760.09 L1230.72,761.94 L1233.63,763.65 L1236.55,765.22 L1239.47,766.66 L1242.38,767.98 L1245.30,769.18 L1248.22,770.29 L1251.13,771.30 L1254.05,772.22 L1256.97,773.06 L1259.88,773.83 L1262.80,774.53 L1265.72,775.17 L1268.63,775.75 L1271.55,776.28 L1274.47,776.77 L1277.38,777.21 L1280.30,777.61 L1283.22,777.97 L1286.13,778.30 L1289.05,778.61 L1291.97,778.88 L1294.88,779.13 L1297.80,779.36 L1300.72,779.56 L1303.63,779.75 L1306.55,779.92 L1309.47,780.08 L1312.38,780.22 L1315.30,780.35 L1318.22,780.46 L1321.13,780.57 L1324.05,780.66 L1326.97,780.75 L1329.88,780.83 L1332.80,780.90 L1335.72,780.97 L1338.63,781.03 L1341.55,781.08 L1344.47,781.13 L1347.38,781.17 L1350.30,781.21 L1353.22,781.25 L1356.13,781.28 L1359.05,781.31 L1361.97,781.34 L1364.88,781.37 L1367.80,781.39" stroke="#ff8000" stroke-width="2.1" fill="none"/>
<path d="M1017.80,483.98 L1020.72,484.13 L1023.63,484.29 L1026.55,484.46 L1029.47,484.66 L1032.38,484.87 L1035.30,485.10 L1038.22,485.36 L1041.13,485.64 L1044.05,485.95 L1046.97,486.30 L1049.88,486.67 L1052.80,487.08 L1055.72,487.54 L1058.63,488.04 L1061.55,488.58 L1064.47,489.18 L1067.38,489.84 L1070.30,490.56 L1073.22,491.35 L1076.13,492.21 L1079.05,493.16 L1081.97,494.19 L1084.88,495.32 L1087.80,496.56 L1090.72,497.91 L1093.63,499.38 L1096.55,500.98 L1099.47,502.72 L1102.38,504.62 L1105.30,506.68 L1108.22,508.91 L1111.13,511.32 L1114.05,513.94 L1116.97,516.75 L1119.88,519.79 L1122.80,523.06 L1125.72,526.56 L1128.63,530.31 L1131.55,534.31 L1134.47,538.58 L1137.38,543.11 L1140.30,547.91 L1143.22,552.97 L1146.13,558.30 L1149.05,563.89 L1151.97,569.73 L1154.88,575.81 L1157.80,582.11 L1160.72,588.62 L1163.63,595.31 L1166.55,602.17 L1169.47,609.15 L1172.38,616.24 L1175.30,623.40 L1178.22,630.59 L1181.13,637.80 L1184.05,644.97 L1186.97,652.08 L1189.88,659.10 L1192.80,666.00 L1195.72,672.74 L1198.63,679.31 L1201.55,685.68 L1204.47,691.83 L1207.38,697.74 L1210.30,703.41 L1213.22,708.82 L1216.13,713.97 L1219.05,718.85 L1221.97,723.46 L1224.88,727.81 L1227.80,731.89 L1230.72,735.72 L1233.63,739.30 L1236.55,742.64 L1239.47,745.74 L1242.38,748.63 L1245.30,751.30 L1248.22,753.78 L1251.13,756.07 L1254.05,758.18 L1256.97,760.12 L1259.88,761.91 L1262.80,763.56 L1265.72,765.07 L1268.63,766.45 L1271.55,767.72 L1274.47,768.88 L1277.38,769.95 L1280.30,770.92 L1283.22,771.81 L1286.13,772.62 L1289.05,773.36 L1291.97,774.04 L1294.88,774.65 L1297.80,775.21 L1300.72,775.73 L1303.63,776.19 L1306.55,776.62 L1309.47,777.00 L1312.38,777.36 L1315.30,777.68 L1318.22,777.97 L1321.13,778.23 L1324.05,778.47 L1326.97,778.69 L1329.88,778.89 L1332.80,779.07 L1335.72,779.24 L1338.63,779.39 L1341.55,779.52 L1344.47,779.65 L1347.38,779.76 L1350.30,779.86 L1353.22,779.95 L1356.13,780.04 L1359.05,780.11 L1361.97,780.18 L1364.88,780.25 L1367.80,780.30" stroke="#00c000" stroke-width="2.1" fill="none"/>
<path d="M1017.80,501.22 L1020.72,501.30 L1023.63,501.38 L1026.55,501.47 L1029.47,501.56 L1032.38,501.67 L1035.30,501.78 L1038.22,501.91 L1041.13,502.04 L1044.05,502.19 L1046.97,502.36 L1049.88,502.54 L1052.80,502.73 L1055.72,502.95 L1058.63,503.18 L1061.55,503.44 L1064.47,503.71 L1067.38,504.02 L1070.30,504.35 L1073.22,504.71 L1076.13,505.11 L1079.05,505.54 L1081.97,506.01 L1084.88,506.53 L1087.80,507.09 L1090.72,507.70 L1093.63,508.36 L1096.55,509.09 L1099.47,509.87 L1102.38,510.73 L1105.30,511.66 L1108.22,512.67 L1111.13,513.77 L1114.05,514.97 L1116.97,516.26 L1119.88,517.66 L1122.80,519.18 L1125.72,520.82 L1128.63,522.59 L1131.55,524.50 L1134.47,526.56 L1137.38,528.78 L1140.30,531.16 L1143.22,533.72 L1146.13,536.46 L1149.05,539.39 L1151.97,542.52 L1154.88,545.86 L1157.80,549.41 L1160.72,553.17 L1163.63,557.16 L1166.55,561.36 L1169.47,565.79 L1172.38,570.45 L1175.30,575.32 L1178.22,580.40 L1181.13,585.70 L1184.05,591.18 L1186.97,596.85 L1189.88,602.70 L1192.80,608.69 L1195.72,614.81 L1198.63,621.05 L1201.55,627.38 L1204.47,633.77 L1207.38,640.20 L1210.30,646.64 L1213.22,653.08 L1216.13,659.47 L1219.05,665.80 L1221.97,672.04 L1224.88,678.17 L1227.80,684.17 L1230.72,690.02 L1233.63,695.70 L1236.55,701.20 L1239.47,706.50 L1242.38,711.60 L1245.30,716.48 L1248.22,721.14 L1251.13,725.58 L1254.05,729.80 L1256.97,733.80 L1259.88,737.57 L1262.80,741.13 L1265.72,744.48 L1268.63,747.62 L1271.55,750.56 L1274.47,753.31 L1277.38,755.88 L1280.30,758.27 L1283.22,760.50 L1286.13,762.57 L1289.05,764.48 L1291.97,766.26 L1294.88,767.91 L1297.80,769.43 L1300.72,770.84 L1303.63,772.14 L1306.55,773.33 L1309.47,774.44 L1312.38,775.45 L1315.30,776.39 L1318.22,777.25 L1321.13,778.04 L1324.05,778.77 L1326.97,779.43 L1329.88,780.05 L1332.80,780.61 L1335.72,781.12 L1338.63,781.60 L1341.55,782.03 L1344.47,782.43 L1347.38,782.79 L1350.30,783.13 L1353.22,783.43 L1356.13,783.71 L1359.05,783.97 L1361.97,784.20 L1364.88,784.42 L1367.80,784.62" stroke="#f50f87" stroke-width="2.1" fill="none"/>
<path d="M1017.80,483.45 L1020.59,483.46 L1023.38,483.46 L1026.16,483.47 L1028.95,483.47 L1031.74,483.48 L1034.53,483.49 L1037.32,483.50 L1040.11,483.51 L1042.89,483.52 L1045.68,483.53 L1048.47,483.54 L1051.26,483.55 L1054.05,483.57 L1056.84,483.58 L1059.62,483.60 L1062.41,483.62 L1065.20,483.64 L1067.99,483.66 L1070.78,483.68 L1073.57,483.71 L1076.36,483.73 L1079.14,483.76 L1081.93,483.80 L1084.72,483.83 L1087.51,483.87 L1090.30,483.91 L1093.09,483.96 L1095.87,484.01 L1098.66,484.06 L1101.45,484.12 L1104.24,484.19 L1107.03,484.26 L1109.82,484.34 L1112.60,484.42 L1115.39,484.51 L1118.18,484.61 L1120.97,484.72 L1123.76,484.84 L1126.54,484.97 L1129.33,485.11 L1132.12,485.27 L1134.91,485.43 L1137.70,485.61 L1140.49,485.81 L1143.28,486.03 L1146.06,486.26 L1148.85,486.52 L1151.64,486.79 L1154.43,487.10 L1157.22,487.42 L1160.00,487.78 L1162.79,488.17 L1165.58,488.59 L1168.37,489.05 L1171.16,489.55 L1173.95,490.09 L1176.73,490.68 L1179.52,491.32 L1182.31,492.02 L1185.10,492.77 L1187.89,493.59 L1190.68,494.47 L1193.47,495.44 L1196.25,496.48 L1199.04,497.61 L1201.83,498.83 L1204.62,500.15 L1207.41,501.58 L1210.19,503.13 L1212.98,504.80 L1215.77,506.60 L1218.56,508.54 L1221.35,510.63 L1224.14,512.88 L1226.92,515.30 L1229.71,517.90 L1232.50,520.68 L1235.29,523.66 L1238.08,526.85 L1240.87,530.26 L1243.65,533.90 L1246.44,537.76 L1249.23,541.87 L1252.02,546.23 L1254.81,550.85 L1257.60,555.72 L1260.38,560.86 L1263.17,566.26 L1265.96,571.92 L1268.75,577.84 L1271.54,584.02 L1274.33,590.45 L1277.12,597.11 L1279.90,604.00 L1282.69,611.10 L1285.48,618.39 L1288.27,625.86 L1291.06,633.48 L1293.85,641.22 L1296.63,649.06 L1299.42,656.98 L1302.21,664.93 L1305.00,672.91 L1307.79,680.87 L1310.58,688.78 L1313.36,696.63 L1316.15,704.37 L1318.94,711.99 L1321.73,719.46 L1324.52,726.76 L1327.30,733.86 L1330.09,740.75 L1332.88,747.42 L1335.67,753.85 L1338.46,760.04 L1341.25,765.96 L1344.03,771.63 L1346.82,777.04 L1349.61,782.18 L1352.40,787.06" stroke="#0000ff" stroke-width="2.1" fill="none"/>
<g fill="#ff8000"><circle cx="1167.3" cy="525.4" r="3.9"/><circle cx="1200.7" cy="596.3" r="3.9"/><circle cx="1241.4" cy="632.7" r="3.9"/><circle cx="1167.0" cy="719.9" r="3.9"/><circle cx="1181.0" cy="716.8" r="3.9"/><circle cx="1167.0" cy="736.5" r="3.9"/><circle cx="1167.0" cy="747.4" r="3.9"/><circle cx="1193.5" cy="746.5" r="3.9"/><circle cx="1207.6" cy="740.3" r="3.9"/><circle cx="1200.8" cy="760.5" r="3.9"/><circle cx="1200.8" cy="776.5" r="3.9"/><circle cx="1227.2" cy="770.9" r="3.9"/><circle cx="1241.3" cy="769.8" r="3.9"/><circle cx="1241.3" cy="779.2" r="3.9"/><circle cx="1227.2" cy="785.5" r="3.9"/><circle cx="1236.1" cy="792.7" r="3.9"/><circle cx="1269.9" cy="792.3" r="3.9"/><circle cx="1273.6" cy="792.3" r="3.9"/><circle cx="1280.9" cy="788.2" r="3.9"/><circle cx="1289.8" cy="792.3" r="3.9"/><circle cx="1294.8" cy="777.1" r="3.9"/><circle cx="1299.0" cy="792.3" r="3.9"/><circle cx="1313.1" cy="787.5" r="3.9"/><circle cx="1319.8" cy="792.3" r="3.9"/><circle cx="1334.5" cy="750.1" r="3.9"/><circle cx="1394.5" cy="780.2" r="3.9"/><circle cx="1368.1" cy="792.4" r="3.9"/><circle cx="1290.4" cy="792.4" r="3.9"/><circle cx="1345.2" cy="789.6" r="3.9"/><circle cx="1346.6" cy="780.6" r="3.9"/><circle cx="1332.7" cy="782.0" r="3.9"/></g>
<g fill="#f50f87"><circle cx="1181.5" cy="497.1" r="3.9"/><circle cx="1208.0" cy="500.5" r="3.9"/><circle cx="1241.4" cy="531.5" r="3.9"/><circle cx="1167.3" cy="609.5" r="3.9"/><circle cx="1167.3" cy="619.9" r="3.9"/><circle cx="1193.9" cy="623.6" r="3.9"/><circle cx="1193.9" cy="635.0" r="3.9"/><circle cx="1227.2" cy="638.5" r="3.9"/><circle cx="1181.0" cy="657.9" r="3.9"/><circle cx="1193.5" cy="660.2" r="3.9"/><circle cx="1234.5" cy="676.2" r="3.9"/><circle cx="1167.0" cy="687.6" r="3.9"/><circle cx="1193.5" cy="698.5" r="3.9"/><circle cx="1227.2" cy="711.6" r="3.9"/><circle cx="1234.5" cy="737.6" r="3.9"/><circle cx="1236.1" cy="783.4" r="3.9"/><circle cx="1263.2" cy="749.4" r="3.9"/><circle cx="1271.9" cy="752.8" r="3.9"/><circle cx="1281.3" cy="748.0" r="3.9"/><circle cx="1271.9" cy="770.9" r="3.9"/><circle cx="1282.3" cy="770.9" r="3.9"/><circle cx="1269.9" cy="782.7" r="3.9"/><circle cx="1306.9" cy="763.6" r="3.9"/><circle cx="1306.9" cy="774.0" r="3.9"/><circle cx="1318.3" cy="786.5" r="3.9"/><circle cx="1368.1" cy="770.9" r="3.9"/><circle cx="1388.9" cy="792.4" r="3.9"/><circle cx="1356.0" cy="784.0" r="3.9"/><circle cx="1362.0" cy="786.0" r="3.9"/><circle cx="1368.0" cy="785.0" r="3.9"/><circle cx="1281.7" cy="748.3" r="3.9"/></g>
<g fill="#00c000"><circle cx="1181.1" cy="607.1" r="3.9"/><circle cx="1167.3" cy="631.5" r="3.9"/><circle cx="1208.0" cy="630.1" r="3.9"/><circle cx="1234.5" cy="649.1" r="3.9"/><circle cx="1207.6" cy="655.0" r="3.9"/><circle cx="1152.9" cy="662.0" r="3.9"/><circle cx="1167.0" cy="664.1" r="3.9"/><circle cx="1200.8" cy="687.0" r="3.9"/><circle cx="1207.6" cy="697.4" r="3.9"/><circle cx="1213.2" cy="709.1" r="3.9"/><circle cx="1241.3" cy="710.5" r="3.9"/><circle cx="1255.3" cy="714.7" r="3.9"/><circle cx="1244.5" cy="788.6" r="3.9"/><circle cx="1253.8" cy="789.6" r="3.9"/><circle cx="1263.2" cy="788.6" r="3.9"/><circle cx="1263.2" cy="770.9" r="3.9"/><circle cx="1282.3" cy="780.3" r="3.9"/><circle cx="1282.3" cy="790.7" r="3.9"/><circle cx="1294.8" cy="784.8" r="3.9"/><circle cx="1306.9" cy="792.3" r="3.9"/><circle cx="1324.6" cy="787.5" r="3.9"/><circle cx="1378.8" cy="780.6" r="3.9"/><circle cx="1399.6" cy="784.8" r="3.9"/><circle cx="1389.2" cy="784.1" r="3.9"/><circle cx="1282.5" cy="780.0" r="3.9"/><circle cx="1357.0" cy="787.6" r="3.9"/><circle cx="1307.8" cy="792.1" r="3.9"/><circle cx="1334.8" cy="792.4" r="3.9"/><circle cx="1282.8" cy="790.3" r="3.9"/><circle cx="1325.0" cy="786.0" r="3.9"/><circle cx="1330.0" cy="787.0" r="3.9"/></g>
<g fill="#0000ff"><circle cx="1167.3" cy="486.7" r="3.9"/><circle cx="1153.2" cy="495.5" r="3.9"/><circle cx="1167.3" cy="498.5" r="3.9"/><circle cx="1193.9" cy="500.1" r="3.9"/><circle cx="1193.9" cy="511.8" r="3.9"/><circle cx="1208.0" cy="512.8" r="3.9"/><circle cx="1234.5" cy="514.2" r="3.9"/><circle cx="1213.5" cy="526.4" r="3.9"/><circle cx="1227.2" cy="530.9" r="3.9"/><circle cx="1263.0" cy="556.8" r="3.9"/><circle cx="1272.0" cy="558.4" r="3.9"/><circle cx="1267.5" cy="590.4" r="3.9"/><circle cx="1300.9" cy="629.5" r="3.9"/><circle cx="1294.8" cy="665.4" r="3.9"/><circle cx="1306.9" cy="671.6" r="3.9"/><circle cx="1302.7" cy="785.5" r="3.9"/><circle cx="1339.7" cy="777.1" r="3.9"/><circle cx="1373.7" cy="786.6" r="3.9"/><circle cx="1383.8" cy="787.5" r="3.9"/><circle cx="1339.7" cy="786.9" r="3.9"/><circle cx="1352.2" cy="786.2" r="3.9"/></g>
<g fill="#f59ac3"><circle cx="1495.1" cy="475.1" r="3.9"/><circle cx="1560.3" cy="475.1" r="3.9"/></g>
<g fill="#f50f87"><circle cx="1505.0" cy="475.1" r="3.9"/><circle cx="1512.6" cy="475.1" r="3.9"/><circle cx="1532.0" cy="475.1" r="3.9"/><circle cx="1547.0" cy="475.1" r="3.9"/></g>
<g fill="#00c000"><circle cx="1498.6" cy="475.1" r="3.9"/><circle cx="1502.2" cy="475.1" r="3.9"/><circle cx="1507.4" cy="475.1" r="3.9"/><circle cx="1536.2" cy="475.1" r="3.9"/><circle cx="1557.5" cy="475.1" r="3.9"/></g>
<g fill="#0000ff"><circle cx="1518.0" cy="475.1" r="3.9"/><circle cx="1523.9" cy="475.1" r="3.9"/><circle cx="1528.9" cy="475.1" r="3.9"/><circle cx="1543.8" cy="475.1" r="3.9"/><circle cx="1550.9" cy="475.1" r="3.9"/></g>
<path d="M1529.89,480.76 L1533.04,488.94 L1536.18,496.71 L1539.32,504.07 L1542.47,511.06 L1545.61,517.69 L1548.75,523.97 L1551.89,529.94 L1555.04,535.59 L1558.18,540.96 L1561.32,546.04 L1564.46,550.87 L1567.61,555.45 L1570.75,559.79 L1573.89,563.91 L1577.03,567.82 L1580.18,571.53 L1583.32,575.04 L1586.46,578.38 L1589.60,581.54 L1592.75,584.54 L1595.89,587.39 L1599.03,590.09 L1602.17,592.65 L1605.32,595.08 L1608.46,597.38 L1611.60,599.57 L1614.74,601.64 L1617.89,603.61 L1621.03,605.47 L1624.17,607.24 L1627.31,608.92 L1630.46,610.51 L1633.60,612.02 L1636.74,613.45 L1639.88,614.81 L1643.03,616.10 L1646.17,617.32 L1649.31,618.48 L1652.45,619.58 L1655.60,620.62 L1658.74,621.61 L1661.88,622.55 L1665.02,623.44 L1668.17,624.29 L1671.31,625.09 L1674.45,625.85 L1677.59,626.57 L1680.74,627.25 L1683.88,627.90 L1687.02,628.51 L1690.16,629.10 L1693.31,629.65 L1696.45,630.18 L1699.59,630.67 L1702.73,631.15 L1705.88,631.59 L1709.02,632.02 L1712.16,632.42 L1715.30,632.80 L1718.45,633.17 L1721.59,633.51 L1724.73,633.84 L1727.88,634.15 L1731.02,634.44 L1734.16,634.72 L1737.30,634.98 L1740.45,635.23 L1743.59,635.47 L1746.73,635.70 L1749.87,635.91 L1753.02,636.11 L1756.16,636.31 L1759.30,636.49 L1762.44,636.66 L1765.59,636.83 L1768.73,636.98 L1771.87,637.13 L1775.01,637.27 L1778.16,637.40 L1781.30,637.53 L1784.44,637.65 L1787.58,637.76 L1790.73,637.87 L1793.87,637.97 L1797.01,638.07 L1800.15,638.16 L1803.30,638.25 L1806.44,638.33 L1809.58,638.41 L1812.72,638.48 L1815.87,638.55 L1819.01,638.62 L1822.15,638.68 L1825.29,638.74 L1828.44,638.80 L1831.58,638.85 L1834.72,638.91 L1837.86,638.95 L1841.01,639.00 L1844.15,639.04 L1847.29,639.09 L1850.43,639.13 L1853.58,639.16 L1856.72,639.20 L1859.86,639.23 L1863.00,639.26 L1866.15,639.29 L1869.29,639.32 L1872.43,639.35 L1875.57,639.38 L1878.72,639.40 L1881.86,639.42 L1885.00,639.45 L1888.14,639.47 L1891.29,639.49 L1894.43,639.51 L1897.57,639.52 L1900.71,639.54 L1903.86,639.56 L1907.00,639.57" stroke="#f59ac3" stroke-width="2.1" fill="none"/>
<path d="M1528.00,476.78 L1531.16,477.09 L1534.32,477.48 L1537.47,477.97 L1540.63,478.58 L1543.79,479.34 L1546.95,480.28 L1550.11,481.46 L1553.27,482.93 L1556.42,484.75 L1559.58,487.00 L1562.74,489.78 L1565.90,493.19 L1569.06,497.35 L1572.22,502.40 L1575.38,508.48 L1578.53,515.73 L1581.69,524.28 L1584.85,534.23 L1588.01,545.63 L1591.17,558.47 L1594.33,572.65 L1597.48,587.95 L1600.64,604.11 L1603.80,620.73 L1606.96,637.40 L1610.12,653.71 L1613.28,669.26 L1616.43,683.74 L1619.59,696.92 L1622.75,708.69 L1625.91,719.00 L1629.07,727.89 L1632.22,735.45 L1635.38,741.81 L1638.54,747.10 L1641.70,751.48 L1644.86,755.06 L1648.02,757.99 L1651.17,760.36 L1654.33,762.28 L1657.49,763.83 L1660.65,765.08 L1663.81,766.08 L1666.97,766.88 L1670.12,767.52 L1673.28,768.03 L1676.44,768.45 L1679.60,768.77 L1682.76,769.04 L1685.92,769.25 L1689.08,769.41 L1692.23,769.55 L1695.39,769.65 L1698.55,769.74 L1701.71,769.80 L1704.87,769.86 L1708.03,769.90 L1711.18,769.93 L1714.34,769.96 L1717.50,769.98 L1720.66,770.00 L1723.82,770.01 L1726.97,770.03 L1730.13,770.03 L1733.29,770.04 L1736.45,770.05 L1739.61,770.05 L1742.77,770.05 L1745.92,770.06 L1749.08,770.06 L1752.24,770.06 L1755.40,770.06 L1758.56,770.06 L1761.72,770.06 L1764.88,770.07 L1768.03,770.07 L1771.19,770.07 L1774.35,770.07 L1777.51,770.07 L1780.67,770.07 L1783.83,770.07 L1786.98,770.07 L1790.14,770.07 L1793.30,770.07 L1796.46,770.07 L1799.62,770.07 L1802.78,770.07 L1805.93,770.07 L1809.09,770.07 L1812.25,770.07 L1815.41,770.07 L1818.57,770.07 L1821.72,770.07 L1824.88,770.07 L1828.04,770.07 L1831.20,770.07 L1834.36,770.07 L1837.52,770.07 L1840.67,770.07 L1843.83,770.07 L1846.99,770.07 L1850.15,770.07 L1853.31,770.07 L1856.47,770.07 L1859.62,770.07 L1862.78,770.07 L1865.94,770.07 L1869.10,770.07 L1872.26,770.07 L1875.42,770.07 L1878.58,770.07 L1881.73,770.07 L1884.89,770.07 L1888.05,770.07 L1891.21,770.07 L1894.37,770.07 L1897.53,770.07 L1900.68,770.07 L1903.84,770.07 L1907.00,770.07" stroke="#f50f87" stroke-width="2.1" fill="none"/>
<path d="M1531.79,478.89 L1534.92,481.54 L1538.04,484.40 L1541.17,487.48 L1544.30,490.80 L1547.42,494.36 L1550.55,498.17 L1553.68,502.25 L1556.80,506.59 L1559.93,511.21 L1563.06,516.11 L1566.18,521.29 L1569.31,526.75 L1572.44,532.48 L1575.56,538.49 L1578.69,544.75 L1581.82,551.25 L1584.94,557.99 L1588.07,564.93 L1591.20,572.05 L1594.33,579.34 L1597.45,586.75 L1600.58,594.26 L1603.71,601.83 L1606.83,609.44 L1609.96,617.04 L1613.09,624.60 L1616.21,632.08 L1619.34,639.46 L1622.47,646.71 L1625.59,653.79 L1628.72,660.68 L1631.85,667.35 L1634.97,673.79 L1638.10,679.98 L1641.23,685.92 L1644.35,691.58 L1647.48,696.96 L1650.61,702.06 L1653.73,706.89 L1656.86,711.44 L1659.99,715.71 L1663.11,719.71 L1666.24,723.46 L1669.37,726.95 L1672.49,730.21 L1675.62,733.23 L1678.75,736.03 L1681.87,738.63 L1685.00,741.03 L1688.13,743.24 L1691.25,745.29 L1694.38,747.17 L1697.51,748.90 L1700.63,750.49 L1703.76,751.95 L1706.89,753.29 L1710.01,754.51 L1713.14,755.63 L1716.27,756.66 L1719.39,757.60 L1722.52,758.46 L1725.65,759.25 L1728.78,759.96 L1731.90,760.62 L1735.03,761.21 L1738.16,761.76 L1741.28,762.25 L1744.41,762.70 L1747.54,763.12 L1750.66,763.49 L1753.79,763.83 L1756.92,764.14 L1760.04,764.43 L1763.17,764.68 L1766.30,764.92 L1769.42,765.13 L1772.55,765.33 L1775.68,765.50 L1778.80,765.66 L1781.93,765.81 L1785.06,765.94 L1788.18,766.06 L1791.31,766.17 L1794.44,766.27 L1797.56,766.36 L1800.69,766.45 L1803.82,766.52 L1806.94,766.59 L1810.07,766.65 L1813.20,766.71 L1816.32,766.76 L1819.45,766.81 L1822.58,766.85 L1825.70,766.89 L1828.83,766.92 L1831.96,766.95 L1835.08,766.98 L1838.21,767.01 L1841.34,767.03 L1844.46,767.06 L1847.59,767.08 L1850.72,767.09 L1853.85,767.11 L1856.97,767.12 L1860.10,767.14 L1863.23,767.15 L1866.35,767.16 L1869.48,767.17 L1872.61,767.18 L1875.73,767.19 L1878.86,767.20 L1881.99,767.20 L1885.11,767.21 L1888.24,767.22 L1891.37,767.22 L1894.49,767.23 L1897.62,767.23 L1900.75,767.23 L1903.87,767.24 L1907.00,767.24" stroke="#00c000" stroke-width="2.1" fill="none"/>
<line x1="1528.30" y1="486.60" x2="1907.00" y2="650.40" stroke="#0000ff" stroke-width="2.1"/>
<g fill="#f59ac3"><circle cx="1696.5" cy="587.0" r="3.9"/><circle cx="1660.5" cy="606.9" r="3.9"/><circle cx="1684.0" cy="614.0" r="3.9"/><circle cx="1696.5" cy="613.2" r="3.9"/><circle cx="1646.5" cy="618.2" r="3.9"/><circle cx="1660.5" cy="618.2" r="3.9"/><circle cx="1715.2" cy="623.0" r="3.9"/><circle cx="1646.5" cy="636.5" r="3.9"/><circle cx="1660.5" cy="639.6" r="3.9"/><circle cx="1674.4" cy="636.5" r="3.9"/><circle cx="1690.2" cy="636.5" r="3.9"/><circle cx="1690.2" cy="644.8" r="3.9"/><circle cx="1715.2" cy="643.2" r="3.9"/><circle cx="1766.8" cy="560.3" r="3.9"/><circle cx="1726.1" cy="584.3" r="3.9"/><circle cx="1757.4" cy="607.3" r="3.9"/><circle cx="1766.8" cy="604.4" r="3.9"/><circle cx="1715.7" cy="622.6" r="3.9"/><circle cx="1736.4" cy="625.6" r="3.9"/><circle cx="1761.9" cy="625.6" r="3.9"/><circle cx="1793.3" cy="605.9" r="3.9"/><circle cx="1802.2" cy="611.4" r="3.9"/><circle cx="1830.7" cy="615.8" r="3.9"/><circle cx="1827.3" cy="628.1" r="3.9"/><circle cx="1841.5" cy="628.9" r="3.9"/><circle cx="1797.9" cy="637.4" r="3.9"/><circle cx="1876.5" cy="606.3" r="3.9"/><circle cx="1888.6" cy="644.3" r="3.9"/><circle cx="1903.0" cy="592.6" r="3.9"/><circle cx="1910.9" cy="594.1" r="3.9"/><circle cx="1906.9" cy="611.8" r="3.9"/><circle cx="1906.9" cy="635.0" r="3.9"/><circle cx="1915.2" cy="630.5" r="3.9"/><circle cx="1726.1" cy="647.6" r="3.9"/><circle cx="1726.1" cy="655.1" r="3.9"/><circle cx="1757.4" cy="653.5" r="3.9"/><circle cx="1766.8" cy="652.1" r="3.9"/><circle cx="1766.8" cy="658.6" r="3.9"/><circle cx="1793.3" cy="650.1" r="3.9"/><circle cx="1802.2" cy="654.1" r="3.9"/><circle cx="1830.7" cy="647.2" r="3.9"/><circle cx="1838.1" cy="653.1" r="3.9"/><circle cx="1864.1" cy="646.2" r="3.9"/><circle cx="1876.5" cy="645.6" r="3.9"/><circle cx="1864.1" cy="656.0" r="3.9"/><circle cx="1876.5" cy="659.0" r="3.9"/><circle cx="1915.2" cy="650.7" r="3.9"/><circle cx="1690.1" cy="662.2" r="3.9"/><circle cx="1757.2" cy="653.9" r="3.9"/><circle cx="1766.4" cy="660.0" r="3.9"/><circle cx="1793.6" cy="649.6" r="3.9"/><circle cx="1798.2" cy="665.0" r="3.9"/><circle cx="1798.2" cy="692.4" r="3.9"/><circle cx="1834.5" cy="663.7" r="3.9"/><circle cx="1834.5" cy="674.8" r="3.9"/><circle cx="1863.9" cy="656.3" r="3.9"/><circle cx="1876.5" cy="661.3" r="3.9"/><circle cx="1863.9" cy="749.7" r="3.9"/><circle cx="1690.1" cy="645.2" r="3.9"/></g>
<g fill="#f50f87"><circle cx="1646.6" cy="740.8" r="3.9"/><circle cx="1660.5" cy="736.2" r="3.9"/><circle cx="1632.7" cy="757.1" r="3.9"/><circle cx="1646.6" cy="760.6" r="3.9"/><circle cx="1660.5" cy="761.7" r="3.9"/><circle cx="1674.7" cy="755.3" r="3.9"/><circle cx="1646.6" cy="770.8" r="3.9"/><circle cx="1660.5" cy="772.7" r="3.9"/><circle cx="1671.4" cy="771.9" r="3.9"/><circle cx="1684.0" cy="772.3" r="3.9"/><circle cx="1696.5" cy="746.8" r="3.9"/><circle cx="1696.5" cy="772.8" r="3.9"/><circle cx="1706.2" cy="771.4" r="3.9"/><circle cx="1708.9" cy="750.5" r="3.9"/><circle cx="1708.9" cy="772.8" r="3.9"/><circle cx="1726.1" cy="755.6" r="3.9"/><circle cx="1722.4" cy="770.8" r="3.9"/><circle cx="1726.1" cy="776.9" r="3.9"/><circle cx="1732.1" cy="769.5" r="3.9"/><circle cx="1736.7" cy="769.5" r="3.9"/><circle cx="1746.9" cy="767.7" r="3.9"/><circle cx="1746.9" cy="775.1" r="3.9"/><circle cx="1757.6" cy="752.9" r="3.9"/><circle cx="1757.6" cy="776.9" r="3.9"/><circle cx="1653.8" cy="792.3" r="3.9"/><circle cx="1690.4" cy="792.3" r="3.9"/><circle cx="1721.0" cy="792.3" r="3.9"/><circle cx="1760.0" cy="792.3" r="3.9"/><circle cx="1798.2" cy="741.8" r="3.9"/><circle cx="1766.4" cy="751.9" r="3.9"/><circle cx="1811.8" cy="755.6" r="3.9"/><circle cx="1830.8" cy="747.9" r="3.9"/><circle cx="1838.0" cy="750.5" r="3.9"/><circle cx="1851.5" cy="750.6" r="3.9"/><circle cx="1888.5" cy="754.2" r="3.9"/><circle cx="1907.0" cy="749.7" r="3.9"/><circle cx="1922.8" cy="759.3" r="3.9"/><circle cx="1930.7" cy="763.0" r="3.9"/><circle cx="1922.8" cy="768.6" r="3.9"/><circle cx="1938.9" cy="769.0" r="3.9"/><circle cx="1930.7" cy="775.6" r="3.9"/><circle cx="1757.5" cy="776.5" r="3.9"/><circle cx="1766.4" cy="772.3" r="3.9"/><circle cx="1775.7" cy="774.7" r="3.9"/><circle cx="1784.9" cy="774.1" r="3.9"/><circle cx="1793.6" cy="774.7" r="3.9"/><circle cx="1811.8" cy="774.1" r="3.9"/><circle cx="1830.8" cy="774.7" r="3.9"/><circle cx="1845.1" cy="775.1" r="3.9"/><circle cx="1851.5" cy="767.7" r="3.9"/><circle cx="1851.5" cy="783.9" r="3.9"/><circle cx="1864.0" cy="775.1" r="3.9"/><circle cx="1876.5" cy="779.7" r="3.9"/><circle cx="1883.9" cy="769.1" r="3.9"/><circle cx="1888.5" cy="779.1" r="3.9"/><circle cx="1899.1" cy="775.1" r="3.9"/><circle cx="1899.1" cy="782.1" r="3.9"/><circle cx="1761.8" cy="792.6" r="3.9"/><circle cx="1798.2" cy="792.6" r="3.9"/><circle cx="1834.5" cy="792.6" r="3.9"/><circle cx="1748.0" cy="767.3" r="3.9"/><circle cx="1757.5" cy="752.9" r="3.9"/></g>
<g fill="#00c000"><circle cx="1646.6" cy="695.1" r="3.9"/><circle cx="1646.6" cy="703.3" r="3.9"/><circle cx="1660.5" cy="699.2" r="3.9"/><circle cx="1660.5" cy="709.9" r="3.9"/><circle cx="1674.7" cy="693.7" r="3.9"/><circle cx="1684.0" cy="701.1" r="3.9"/><circle cx="1696.5" cy="701.4" r="3.9"/><circle cx="1690.4" cy="720.9" r="3.9"/><circle cx="1639.6" cy="723.6" r="3.9"/><circle cx="1653.8" cy="726.0" r="3.9"/><circle cx="1667.9" cy="725.7" r="3.9"/><circle cx="1671.4" cy="750.5" r="3.9"/><circle cx="1671.4" cy="761.2" r="3.9"/><circle cx="1696.5" cy="756.6" r="3.9"/><circle cx="1659.0" cy="768.0" r="3.9"/><circle cx="1684.0" cy="764.9" r="3.9"/><circle cx="1694.7" cy="769.0" r="3.9"/><circle cx="1705.2" cy="764.9" r="3.9"/><circle cx="1715.4" cy="751.9" r="3.9"/><circle cx="1715.4" cy="760.3" r="3.9"/><circle cx="1715.4" cy="769.0" r="3.9"/><circle cx="1726.1" cy="762.1" r="3.9"/><circle cx="1736.7" cy="756.6" r="3.9"/><circle cx="1739.1" cy="763.6" r="3.9"/><circle cx="1739.1" cy="773.6" r="3.9"/><circle cx="1748.3" cy="773.2" r="3.9"/><circle cx="1757.6" cy="761.2" r="3.9"/><circle cx="1757.6" cy="769.0" r="3.9"/><circle cx="1731.1" cy="792.3" r="3.9"/><circle cx="1863.9" cy="732.5" r="3.9"/><circle cx="1863.9" cy="741.8" r="3.9"/><circle cx="1876.5" cy="730.7" r="3.9"/><circle cx="1876.5" cy="747.7" r="3.9"/><circle cx="1838.9" cy="752.3" r="3.9"/><circle cx="1902.0" cy="752.3" r="3.9"/><circle cx="1775.7" cy="762.5" r="3.9"/><circle cx="1775.7" cy="771.7" r="3.9"/><circle cx="1784.9" cy="760.3" r="3.9"/><circle cx="1784.9" cy="767.3" r="3.9"/><circle cx="1793.6" cy="767.7" r="3.9"/><circle cx="1802.5" cy="760.3" r="3.9"/><circle cx="1802.5" cy="767.7" r="3.9"/><circle cx="1802.5" cy="776.5" r="3.9"/><circle cx="1810.5" cy="761.2" r="3.9"/><circle cx="1810.5" cy="770.4" r="3.9"/><circle cx="1821.0" cy="767.3" r="3.9"/><circle cx="1821.0" cy="776.0" r="3.9"/><circle cx="1824.7" cy="771.4" r="3.9"/><circle cx="1831.2" cy="766.7" r="3.9"/><circle cx="1838.0" cy="765.4" r="3.9"/><circle cx="1838.0" cy="773.6" r="3.9"/><circle cx="1845.1" cy="764.0" r="3.9"/><circle cx="1851.5" cy="776.0" r="3.9"/><circle cx="1858.9" cy="768.6" r="3.9"/><circle cx="1864.5" cy="767.7" r="3.9"/><circle cx="1875.6" cy="770.4" r="3.9"/><circle cx="1891.3" cy="769.1" r="3.9"/><circle cx="1891.3" cy="778.4" r="3.9"/><circle cx="1907.0" cy="772.3" r="3.9"/><circle cx="1907.0" cy="779.1" r="3.9"/><circle cx="1915.0" cy="773.2" r="3.9"/><circle cx="1915.0" cy="784.3" r="3.9"/><circle cx="1910.7" cy="792.6" r="3.9"/><circle cx="1748.5" cy="773.2" r="3.9"/></g>
<g fill="#0000ff"><circle cx="1646.5" cy="539.7" r="3.9"/><circle cx="1660.5" cy="541.2" r="3.9"/><circle cx="1690.2" cy="540.1" r="3.9"/><circle cx="1660.5" cy="549.7" r="3.9"/><circle cx="1646.5" cy="554.9" r="3.9"/><circle cx="1690.2" cy="552.6" r="3.9"/><circle cx="1660.5" cy="559.1" r="3.9"/><circle cx="1690.2" cy="572.4" r="3.9"/><circle cx="1671.5" cy="579.9" r="3.9"/><circle cx="1684.0" cy="583.4" r="3.9"/><circle cx="1709.0" cy="589.3" r="3.9"/><circle cx="1646.5" cy="600.5" r="3.9"/><circle cx="1718.8" cy="608.4" r="3.9"/><circle cx="1726.1" cy="530.7" r="3.9"/><circle cx="1761.9" cy="527.7" r="3.9"/><circle cx="1748.1" cy="554.3" r="3.9"/><circle cx="1757.4" cy="560.3" r="3.9"/><circle cx="1726.1" cy="573.5" r="3.9"/><circle cx="1757.4" cy="581.0" r="3.9"/><circle cx="1766.8" cy="581.4" r="3.9"/><circle cx="1708.8" cy="589.6" r="3.9"/><circle cx="1726.1" cy="593.2" r="3.9"/><circle cx="1720.6" cy="608.9" r="3.9"/><circle cx="1731.4" cy="608.9" r="3.9"/><circle cx="1726.1" cy="625.0" r="3.9"/><circle cx="1761.9" cy="639.7" r="3.9"/><circle cx="1789.0" cy="574.5" r="3.9"/><circle cx="1797.9" cy="570.6" r="3.9"/><circle cx="1807.1" cy="571.5" r="3.9"/><circle cx="1797.9" cy="585.7" r="3.9"/><circle cx="1797.9" cy="594.5" r="3.9"/><circle cx="1834.2" cy="557.2" r="3.9"/><circle cx="1834.2" cy="572.5" r="3.9"/><circle cx="1834.2" cy="583.3" r="3.9"/><circle cx="1838.1" cy="609.9" r="3.9"/><circle cx="1838.1" cy="617.7" r="3.9"/><circle cx="1834.2" cy="628.5" r="3.9"/><circle cx="1870.0" cy="585.3" r="3.9"/><circle cx="1864.1" cy="600.6" r="3.9"/><circle cx="1870.0" cy="617.3" r="3.9"/><circle cx="1864.1" cy="637.8" r="3.9"/><circle cx="1876.5" cy="635.0" r="3.9"/><circle cx="1899.5" cy="648.2" r="3.9"/><circle cx="1907.3" cy="651.5" r="3.9"/><circle cx="1906.9" cy="603.6" r="3.9"/><circle cx="1870.0" cy="698.8" r="3.9"/><circle cx="1907.0" cy="706.2" r="3.9"/><circle cx="1907.0" cy="665.5" r="3.9"/><circle cx="1903.0" cy="792.6" r="3.9"/></g>
<line x1="987.80" y1="726.90" x2="1025.10" y2="726.90" stroke="#0000ff" stroke-width="2.4"/>
<circle cx="1006.40" cy="726.90" r="4.0" fill="#0000ff"/>
<text x="1030.22" y="733.60" font-family='"Liberation Sans", sans-serif' font-size="18.60" fill="#262f8c" textLength="42.25" lengthAdjust="spacingAndGlyphs">CTR*</text>
<line x1="987.80" y1="744.40" x2="1025.10" y2="744.40" stroke="#00c000" stroke-width="2.4"/>
<circle cx="1006.40" cy="744.40" r="4.0" fill="#00c000"/>
<text x="1029.60" y="752.40" font-family='"Liberation Sans", sans-serif' font-size="18.60" fill="#00a14f" textLength="34.56" lengthAdjust="spacingAndGlyphs">NF1</text>
<text x="1062.70" y="746.40" font-family='"Liberation Sans", sans-serif' font-size="11.80" fill="#00a14f" textLength="28.08" lengthAdjust="spacingAndGlyphs">KO_1</text>
<line x1="987.80" y1="760.40" x2="1025.10" y2="760.40" stroke="#ff8000" stroke-width="2.4"/>
<circle cx="1006.40" cy="760.40" r="4.0" fill="#ff8000"/>
<text x="1029.60" y="766.90" font-family='"Liberation Sans", sans-serif' font-size="18.60" fill="#f7941d" textLength="34.56" lengthAdjust="spacingAndGlyphs">NF1</text>
<text x="1062.73" y="761.00" font-family='"Liberation Sans", sans-serif' font-size="11.80" fill="#f7941d" textLength="27.00" lengthAdjust="spacingAndGlyphs">KO_2</text>
<line x1="987.80" y1="776.10" x2="1025.10" y2="776.10" stroke="#f50f87" stroke-width="2.4"/>
<circle cx="1006.40" cy="776.10" r="4.0" fill="#f50f87"/>
<text x="1029.65" y="782.60" font-family='"Liberation Sans", sans-serif' font-size="18.60" fill="#e6007e" textLength="48.95" lengthAdjust="spacingAndGlyphs">NRAS</text>
<text x="1078.65" y="777.90" font-family='"Liberation Sans", sans-serif' font-size="11.80" fill="#e6007e" textLength="28.78" lengthAdjust="spacingAndGlyphs">G12D</text>
<line x1="1495.00" y1="714.80" x2="1532.70" y2="714.80" stroke="#0000ff" stroke-width="2.4"/>
<circle cx="1513.70" cy="714.80" r="4.0" fill="#0000ff"/>
<text x="1538.03" y="720.80" font-family='"Liberation Sans", sans-serif' font-size="18.60" fill="#262f8c" textLength="41.73" lengthAdjust="spacingAndGlyphs">CTR*</text>
<line x1="1495.00" y1="735.60" x2="1532.70" y2="735.60" stroke="#f59ac3" stroke-width="2.4"/>
<circle cx="1513.70" cy="735.60" r="4.0" fill="#f59ac3"/>
<text x="1537.47" y="742.70" font-family='"Liberation Sans", sans-serif' font-size="18.60" fill="#ea7fa8" textLength="48.53" lengthAdjust="spacingAndGlyphs">NRAS</text>
<text x="1586.16" y="737.20" font-family='"Liberation Sans", sans-serif' font-size="11.80" fill="#ea7fa8" textLength="32.51" lengthAdjust="spacingAndGlyphs">G12D*</text>
<line x1="1495.00" y1="756.70" x2="1532.70" y2="756.70" stroke="#00c000" stroke-width="2.4"/>
<circle cx="1513.70" cy="756.70" r="4.0" fill="#00c000"/>
<text x="1537.43" y="762.90" font-family='"Liberation Sans", sans-serif' font-size="18.60" fill="#00a14f" textLength="33.96" lengthAdjust="spacingAndGlyphs">NF1</text>
<text x="1570.78" y="756.90" font-family='"Liberation Sans", sans-serif' font-size="11.80" fill="#00a14f" textLength="28.75" lengthAdjust="spacingAndGlyphs">KO_1</text>
<line x1="1495.00" y1="775.90" x2="1532.70" y2="775.90" stroke="#f50f87" stroke-width="2.4"/>
<circle cx="1513.70" cy="775.90" r="4.0" fill="#f50f87"/>
<text x="1537.47" y="782.20" font-family='"Liberation Sans", sans-serif' font-size="18.60" fill="#e6007e" textLength="48.53" lengthAdjust="spacingAndGlyphs">NRAS</text>
<text x="1586.14" y="777.60" font-family='"Liberation Sans", sans-serif' font-size="11.80" fill="#e6007e" textLength="29.20" lengthAdjust="spacingAndGlyphs">G12D</text>
</svg>
</body></html>
